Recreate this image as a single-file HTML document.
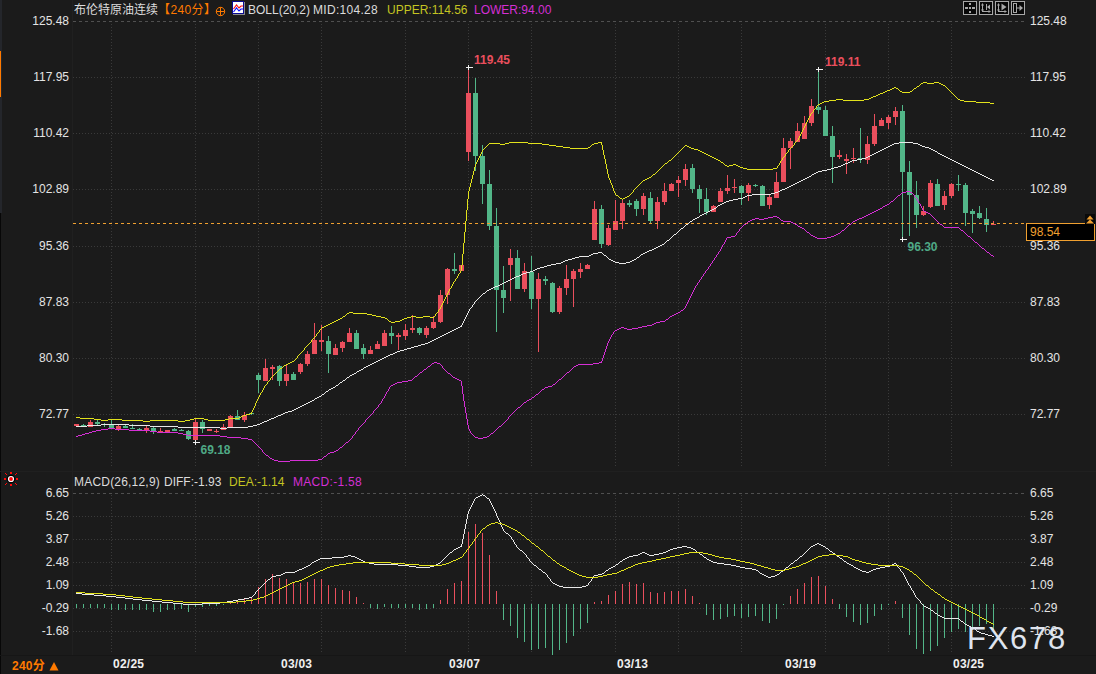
<!DOCTYPE html>
<html lang="zh"><head><meta charset="utf-8"><title>布伦特原油连续 240分</title>
<style>
html,body{margin:0;padding:0;background:#1b1b1b;}
body{width:1096px;height:674px;overflow:hidden;position:relative;font-family:"Liberation Sans","Noto Sans CJK SC",sans-serif;}
#chart{position:absolute;left:0;top:0;width:1096px;height:674px;display:block;}
.t{position:absolute;white-space:nowrap;font-size:12px;line-height:14px;height:14px;color:#dcdcdc;}
.ax{position:absolute;white-space:nowrap;font-size:12px;line-height:14px;height:14px;color:#e4e4e4;}
.axl{left:0;width:69px;text-align:right;}
.axr{left:1030px;}
.b{font-weight:bold;}
.dt{position:absolute;white-space:nowrap;font-size:12px;line-height:14px;font-weight:bold;color:#f0f0f0;top:657px;letter-spacing:0.25px;}
.wm{position:absolute;left:967px;top:622px;font-size:31px;line-height:34px;letter-spacing:1.7px;color:#dfe4ee;white-space:nowrap;}
</style></head><body>
<svg id="chart" width="1096" height="674" viewBox="0 0 1096 674">
<rect x="0" y="0" width="2" height="213" fill="#24262b"/>
<rect x="0" y="213" width="1" height="461" fill="#070707"/>
<rect x="0" y="51" width="1" height="46" fill="#ff7a00"/>
<g shape-rendering="crispEdges">
<rect x="72" y="0" width="1" height="655" fill="#202020"/>
<rect x="0" y="471" width="1096" height="1" fill="#202020"/>
<rect x="0" y="655" width="1096" height="1" fill="#161616"/>
<line x1="111.5" y1="24" x2="111.5" y2="466" stroke="#3a3a3a" stroke-width="1" stroke-dasharray="1 2"/>
<line x1="111.5" y1="495" x2="111.5" y2="654" stroke="#3a3a3a" stroke-width="1" stroke-dasharray="1 2"/>
<line x1="195.5" y1="24" x2="195.5" y2="466" stroke="#3a3a3a" stroke-width="1" stroke-dasharray="1 2"/>
<line x1="195.5" y1="495" x2="195.5" y2="654" stroke="#3a3a3a" stroke-width="1" stroke-dasharray="1 2"/>
<line x1="258.5" y1="24" x2="258.5" y2="466" stroke="#3a3a3a" stroke-width="1" stroke-dasharray="1 2"/>
<line x1="258.5" y1="495" x2="258.5" y2="654" stroke="#3a3a3a" stroke-width="1" stroke-dasharray="1 2"/>
<line x1="321.5" y1="24" x2="321.5" y2="466" stroke="#3a3a3a" stroke-width="1" stroke-dasharray="1 2"/>
<line x1="321.5" y1="495" x2="321.5" y2="654" stroke="#3a3a3a" stroke-width="1" stroke-dasharray="1 2"/>
<line x1="405.5" y1="24" x2="405.5" y2="466" stroke="#3a3a3a" stroke-width="1" stroke-dasharray="1 2"/>
<line x1="405.5" y1="495" x2="405.5" y2="654" stroke="#3a3a3a" stroke-width="1" stroke-dasharray="1 2"/>
<line x1="468.5" y1="24" x2="468.5" y2="466" stroke="#3a3a3a" stroke-width="1" stroke-dasharray="1 2"/>
<line x1="468.5" y1="495" x2="468.5" y2="654" stroke="#3a3a3a" stroke-width="1" stroke-dasharray="1 2"/>
<line x1="531.5" y1="24" x2="531.5" y2="466" stroke="#3a3a3a" stroke-width="1" stroke-dasharray="1 2"/>
<line x1="531.5" y1="495" x2="531.5" y2="654" stroke="#3a3a3a" stroke-width="1" stroke-dasharray="1 2"/>
<line x1="615.5" y1="24" x2="615.5" y2="466" stroke="#3a3a3a" stroke-width="1" stroke-dasharray="1 2"/>
<line x1="615.5" y1="495" x2="615.5" y2="654" stroke="#3a3a3a" stroke-width="1" stroke-dasharray="1 2"/>
<line x1="678.5" y1="24" x2="678.5" y2="466" stroke="#3a3a3a" stroke-width="1" stroke-dasharray="1 2"/>
<line x1="678.5" y1="495" x2="678.5" y2="654" stroke="#3a3a3a" stroke-width="1" stroke-dasharray="1 2"/>
<line x1="741.5" y1="24" x2="741.5" y2="466" stroke="#3a3a3a" stroke-width="1" stroke-dasharray="1 2"/>
<line x1="741.5" y1="495" x2="741.5" y2="654" stroke="#3a3a3a" stroke-width="1" stroke-dasharray="1 2"/>
<line x1="825.5" y1="24" x2="825.5" y2="466" stroke="#3a3a3a" stroke-width="1" stroke-dasharray="1 2"/>
<line x1="825.5" y1="495" x2="825.5" y2="654" stroke="#3a3a3a" stroke-width="1" stroke-dasharray="1 2"/>
<line x1="888.5" y1="24" x2="888.5" y2="466" stroke="#3a3a3a" stroke-width="1" stroke-dasharray="1 2"/>
<line x1="888.5" y1="495" x2="888.5" y2="654" stroke="#3a3a3a" stroke-width="1" stroke-dasharray="1 2"/>
<line x1="951.5" y1="24" x2="951.5" y2="466" stroke="#3a3a3a" stroke-width="1" stroke-dasharray="1 2"/>
<line x1="951.5" y1="495" x2="951.5" y2="654" stroke="#3a3a3a" stroke-width="1" stroke-dasharray="1 2"/>
<line x1="73" y1="21.5" x2="1024" y2="21.5" stroke="#505050" stroke-width="1" stroke-dasharray="3 3"/>
<line x1="73" y1="77.5" x2="1026" y2="77.5" stroke="#3a3a3a" stroke-width="1" stroke-dasharray="1 2"/>
<line x1="73" y1="133.5" x2="1026" y2="133.5" stroke="#3a3a3a" stroke-width="1" stroke-dasharray="1 2"/>
<line x1="73" y1="189.5" x2="1026" y2="189.5" stroke="#3a3a3a" stroke-width="1" stroke-dasharray="1 2"/>
<line x1="73" y1="246.5" x2="1026" y2="246.5" stroke="#3a3a3a" stroke-width="1" stroke-dasharray="1 2"/>
<line x1="73" y1="302.5" x2="1026" y2="302.5" stroke="#3a3a3a" stroke-width="1" stroke-dasharray="1 2"/>
<line x1="73" y1="358.5" x2="1026" y2="358.5" stroke="#3a3a3a" stroke-width="1" stroke-dasharray="1 2"/>
<line x1="73" y1="414.5" x2="1026" y2="414.5" stroke="#3a3a3a" stroke-width="1" stroke-dasharray="1 2"/>
<line x1="73" y1="493.5" x2="1024" y2="493.5" stroke="#505050" stroke-width="1" stroke-dasharray="3 3"/>
<line x1="73" y1="516.5" x2="1026" y2="516.5" stroke="#3a3a3a" stroke-width="1" stroke-dasharray="1 2"/>
<line x1="73" y1="539.5" x2="1026" y2="539.5" stroke="#3a3a3a" stroke-width="1" stroke-dasharray="1 2"/>
<line x1="73" y1="562.5" x2="1026" y2="562.5" stroke="#3a3a3a" stroke-width="1" stroke-dasharray="1 2"/>
<line x1="73" y1="585.5" x2="1026" y2="585.5" stroke="#3a3a3a" stroke-width="1" stroke-dasharray="1 2"/>
<line x1="73" y1="608.5" x2="1026" y2="608.5" stroke="#3a3a3a" stroke-width="1" stroke-dasharray="1 2"/>
<line x1="73" y1="631.5" x2="1026" y2="631.5" stroke="#3a3a3a" stroke-width="1" stroke-dasharray="1 2"/>
</g>
<g shape-rendering="crispEdges">
<rect x="76" y="424" width="1" height="2" fill="#ea4f5d"/>
<rect x="74" y="424" width="5" height="2" fill="#ea4f5d"/>
<rect x="83" y="424" width="1" height="2" fill="#52b688"/>
<rect x="81" y="425" width="5" height="1" fill="#52b688"/>
<rect x="90" y="420" width="1" height="7" fill="#ea4f5d"/>
<rect x="88" y="422" width="5" height="5" fill="#ea4f5d"/>
<rect x="97" y="420" width="1" height="5" fill="#52b688"/>
<rect x="95" y="422" width="5" height="2" fill="#52b688"/>
<rect x="104" y="423" width="1" height="4" fill="#52b688"/>
<rect x="102" y="424" width="5" height="1" fill="#52b688"/>
<rect x="111" y="420" width="1" height="9" fill="#52b688"/>
<rect x="109" y="425" width="5" height="4" fill="#52b688"/>
<rect x="118" y="425" width="1" height="6" fill="#ea4f5d"/>
<rect x="116" y="426" width="5" height="3" fill="#ea4f5d"/>
<rect x="125" y="425" width="1" height="3" fill="#52b688"/>
<rect x="123" y="426" width="5" height="2" fill="#52b688"/>
<rect x="132" y="424" width="1" height="5" fill="#52b688"/>
<rect x="130" y="428" width="5" height="1" fill="#52b688"/>
<rect x="139" y="428" width="1" height="2" fill="#52b688"/>
<rect x="137" y="429" width="5" height="1" fill="#52b688"/>
<rect x="146" y="426" width="1" height="7" fill="#ea4f5d"/>
<rect x="144" y="428" width="5" height="2" fill="#ea4f5d"/>
<rect x="153" y="427" width="1" height="7" fill="#52b688"/>
<rect x="151" y="428" width="5" height="3" fill="#52b688"/>
<rect x="160" y="428" width="1" height="4" fill="#ea4f5d"/>
<rect x="158" y="431" width="5" height="1" fill="#ea4f5d"/>
<rect x="167" y="430" width="1" height="2" fill="#ea4f5d"/>
<rect x="165" y="430" width="5" height="2" fill="#ea4f5d"/>
<rect x="174" y="428" width="1" height="3" fill="#52b688"/>
<rect x="172" y="429" width="5" height="2" fill="#52b688"/>
<rect x="181" y="429" width="1" height="2" fill="#52b688"/>
<rect x="179" y="430" width="5" height="1" fill="#52b688"/>
<rect x="188" y="430" width="1" height="10" fill="#52b688"/>
<rect x="186" y="431" width="5" height="8" fill="#52b688"/>
<rect x="195" y="418" width="1" height="25" fill="#ea4f5d"/>
<rect x="193" y="422" width="5" height="18" fill="#ea4f5d"/>
<rect x="202" y="420" width="1" height="13" fill="#52b688"/>
<rect x="200" y="422" width="5" height="7" fill="#52b688"/>
<rect x="209" y="429" width="1" height="2" fill="#ea4f5d"/>
<rect x="207" y="429" width="5" height="2" fill="#ea4f5d"/>
<rect x="216" y="429" width="1" height="4" fill="#ea4f5d"/>
<rect x="214" y="431" width="5" height="1" fill="#ea4f5d"/>
<rect x="223" y="424" width="1" height="6" fill="#ea4f5d"/>
<rect x="221" y="427" width="5" height="3" fill="#ea4f5d"/>
<rect x="230" y="415" width="1" height="12" fill="#ea4f5d"/>
<rect x="228" y="416" width="5" height="11" fill="#ea4f5d"/>
<rect x="237" y="410" width="1" height="10" fill="#52b688"/>
<rect x="235" y="416" width="5" height="4" fill="#52b688"/>
<rect x="244" y="412" width="1" height="10" fill="#ea4f5d"/>
<rect x="242" y="415" width="5" height="5" fill="#ea4f5d"/>
<rect x="251" y="413" width="1" height="2" fill="#52b688"/>
<rect x="249" y="413" width="5" height="1" fill="#52b688"/>
<rect x="258" y="373" width="1" height="20" fill="#52b688"/>
<rect x="256" y="375" width="5" height="5" fill="#52b688"/>
<rect x="265" y="359" width="1" height="22" fill="#ea4f5d"/>
<rect x="263" y="368" width="5" height="13" fill="#ea4f5d"/>
<rect x="272" y="365" width="1" height="15" fill="#ea4f5d"/>
<rect x="270" y="367" width="5" height="2" fill="#ea4f5d"/>
<rect x="279" y="365" width="1" height="21" fill="#52b688"/>
<rect x="277" y="366" width="5" height="15" fill="#52b688"/>
<rect x="286" y="365" width="1" height="21" fill="#ea4f5d"/>
<rect x="284" y="374" width="5" height="7" fill="#ea4f5d"/>
<rect x="293" y="372" width="1" height="8" fill="#52b688"/>
<rect x="291" y="374" width="5" height="6" fill="#52b688"/>
<rect x="300" y="363" width="1" height="11" fill="#ea4f5d"/>
<rect x="298" y="364" width="5" height="8" fill="#ea4f5d"/>
<rect x="307" y="351" width="1" height="15" fill="#ea4f5d"/>
<rect x="305" y="354" width="5" height="10" fill="#ea4f5d"/>
<rect x="314" y="323" width="1" height="31" fill="#ea4f5d"/>
<rect x="312" y="340" width="5" height="14" fill="#ea4f5d"/>
<rect x="321" y="325" width="1" height="26" fill="#ea4f5d"/>
<rect x="319" y="340" width="5" height="2" fill="#ea4f5d"/>
<rect x="328" y="336" width="1" height="37" fill="#52b688"/>
<rect x="326" y="341" width="5" height="13" fill="#52b688"/>
<rect x="335" y="344" width="1" height="11" fill="#ea4f5d"/>
<rect x="333" y="348" width="5" height="7" fill="#ea4f5d"/>
<rect x="342" y="341" width="1" height="11" fill="#ea4f5d"/>
<rect x="340" y="342" width="5" height="6" fill="#ea4f5d"/>
<rect x="349" y="328" width="1" height="14" fill="#ea4f5d"/>
<rect x="347" y="333" width="5" height="9" fill="#ea4f5d"/>
<rect x="356" y="330" width="1" height="19" fill="#52b688"/>
<rect x="354" y="333" width="5" height="16" fill="#52b688"/>
<rect x="363" y="344" width="1" height="15" fill="#52b688"/>
<rect x="361" y="348" width="5" height="6" fill="#52b688"/>
<rect x="370" y="346" width="1" height="8" fill="#ea4f5d"/>
<rect x="368" y="350" width="5" height="4" fill="#ea4f5d"/>
<rect x="377" y="341" width="1" height="8" fill="#ea4f5d"/>
<rect x="375" y="344" width="5" height="5" fill="#ea4f5d"/>
<rect x="384" y="330" width="1" height="16" fill="#ea4f5d"/>
<rect x="382" y="333" width="5" height="13" fill="#ea4f5d"/>
<rect x="391" y="326" width="1" height="18" fill="#52b688"/>
<rect x="389" y="333" width="5" height="3" fill="#52b688"/>
<rect x="398" y="333" width="1" height="17" fill="#ea4f5d"/>
<rect x="396" y="335" width="5" height="2" fill="#ea4f5d"/>
<rect x="405" y="324" width="1" height="16" fill="#ea4f5d"/>
<rect x="403" y="330" width="5" height="6" fill="#ea4f5d"/>
<rect x="412" y="315" width="1" height="18" fill="#ea4f5d"/>
<rect x="410" y="328" width="5" height="2" fill="#ea4f5d"/>
<rect x="419" y="327" width="1" height="8" fill="#52b688"/>
<rect x="417" y="328" width="5" height="5" fill="#52b688"/>
<rect x="426" y="326" width="1" height="12" fill="#ea4f5d"/>
<rect x="424" y="328" width="5" height="7" fill="#ea4f5d"/>
<rect x="433" y="316" width="1" height="13" fill="#ea4f5d"/>
<rect x="431" y="322" width="5" height="6" fill="#ea4f5d"/>
<rect x="440" y="290" width="1" height="33" fill="#ea4f5d"/>
<rect x="438" y="295" width="5" height="27" fill="#ea4f5d"/>
<rect x="447" y="268" width="1" height="36" fill="#ea4f5d"/>
<rect x="445" y="269" width="5" height="26" fill="#ea4f5d"/>
<rect x="454" y="253" width="1" height="21" fill="#52b688"/>
<rect x="452" y="269" width="5" height="2" fill="#52b688"/>
<rect x="461" y="265" width="1" height="6" fill="#ea4f5d"/>
<rect x="459" y="265" width="5" height="6" fill="#ea4f5d"/>
<rect x="468" y="67" width="1" height="94" fill="#ea4f5d"/>
<rect x="466" y="93" width="5" height="59" fill="#ea4f5d"/>
<rect x="475" y="78" width="1" height="93" fill="#52b688"/>
<rect x="473" y="93" width="5" height="63" fill="#52b688"/>
<rect x="482" y="145" width="1" height="59" fill="#52b688"/>
<rect x="480" y="156" width="5" height="28" fill="#52b688"/>
<rect x="489" y="170" width="1" height="60" fill="#52b688"/>
<rect x="487" y="184" width="5" height="42" fill="#52b688"/>
<rect x="496" y="208" width="1" height="124" fill="#52b688"/>
<rect x="494" y="226" width="5" height="64" fill="#52b688"/>
<rect x="503" y="266" width="1" height="47" fill="#52b688"/>
<rect x="501" y="290" width="5" height="8" fill="#52b688"/>
<rect x="510" y="249" width="1" height="52" fill="#ea4f5d"/>
<rect x="508" y="258" width="5" height="7" fill="#ea4f5d"/>
<rect x="517" y="250" width="1" height="39" fill="#52b688"/>
<rect x="515" y="258" width="5" height="31" fill="#52b688"/>
<rect x="524" y="263" width="1" height="29" fill="#ea4f5d"/>
<rect x="522" y="271" width="5" height="18" fill="#ea4f5d"/>
<rect x="531" y="256" width="1" height="53" fill="#52b688"/>
<rect x="529" y="272" width="5" height="27" fill="#52b688"/>
<rect x="538" y="273" width="1" height="79" fill="#ea4f5d"/>
<rect x="536" y="279" width="5" height="20" fill="#ea4f5d"/>
<rect x="545" y="276" width="1" height="9" fill="#52b688"/>
<rect x="543" y="279" width="5" height="2" fill="#52b688"/>
<rect x="552" y="282" width="1" height="31" fill="#52b688"/>
<rect x="550" y="283" width="5" height="29" fill="#52b688"/>
<rect x="559" y="286" width="1" height="28" fill="#ea4f5d"/>
<rect x="557" y="288" width="5" height="24" fill="#ea4f5d"/>
<rect x="566" y="265" width="1" height="30" fill="#ea4f5d"/>
<rect x="564" y="279" width="5" height="9" fill="#ea4f5d"/>
<rect x="573" y="269" width="1" height="38" fill="#ea4f5d"/>
<rect x="571" y="271" width="5" height="8" fill="#ea4f5d"/>
<rect x="580" y="263" width="1" height="15" fill="#ea4f5d"/>
<rect x="578" y="269" width="5" height="3" fill="#ea4f5d"/>
<rect x="587" y="264" width="1" height="5" fill="#ea4f5d"/>
<rect x="585" y="265" width="5" height="4" fill="#ea4f5d"/>
<rect x="594" y="201" width="1" height="39" fill="#ea4f5d"/>
<rect x="592" y="209" width="5" height="31" fill="#ea4f5d"/>
<rect x="601" y="205" width="1" height="43" fill="#52b688"/>
<rect x="599" y="209" width="5" height="35" fill="#52b688"/>
<rect x="608" y="225" width="1" height="21" fill="#ea4f5d"/>
<rect x="606" y="228" width="5" height="17" fill="#ea4f5d"/>
<rect x="615" y="200" width="1" height="30" fill="#ea4f5d"/>
<rect x="613" y="221" width="5" height="9" fill="#ea4f5d"/>
<rect x="622" y="200" width="1" height="29" fill="#ea4f5d"/>
<rect x="620" y="203" width="5" height="18" fill="#ea4f5d"/>
<rect x="629" y="200" width="1" height="7" fill="#52b688"/>
<rect x="627" y="203" width="5" height="2" fill="#52b688"/>
<rect x="636" y="199" width="1" height="17" fill="#52b688"/>
<rect x="634" y="201" width="5" height="8" fill="#52b688"/>
<rect x="643" y="193" width="1" height="22" fill="#ea4f5d"/>
<rect x="641" y="196" width="5" height="13" fill="#ea4f5d"/>
<rect x="650" y="192" width="1" height="31" fill="#52b688"/>
<rect x="648" y="198" width="5" height="23" fill="#52b688"/>
<rect x="657" y="197" width="1" height="32" fill="#ea4f5d"/>
<rect x="655" y="202" width="5" height="19" fill="#ea4f5d"/>
<rect x="664" y="183" width="1" height="22" fill="#ea4f5d"/>
<rect x="662" y="191" width="5" height="11" fill="#ea4f5d"/>
<rect x="671" y="183" width="1" height="8" fill="#ea4f5d"/>
<rect x="669" y="184" width="5" height="7" fill="#ea4f5d"/>
<rect x="678" y="176" width="1" height="21" fill="#ea4f5d"/>
<rect x="676" y="180" width="5" height="3" fill="#ea4f5d"/>
<rect x="685" y="164" width="1" height="22" fill="#ea4f5d"/>
<rect x="683" y="169" width="5" height="11" fill="#ea4f5d"/>
<rect x="692" y="164" width="1" height="29" fill="#52b688"/>
<rect x="690" y="168" width="5" height="21" fill="#52b688"/>
<rect x="699" y="185" width="1" height="28" fill="#52b688"/>
<rect x="697" y="189" width="5" height="10" fill="#52b688"/>
<rect x="706" y="188" width="1" height="27" fill="#52b688"/>
<rect x="704" y="199" width="5" height="13" fill="#52b688"/>
<rect x="713" y="205" width="1" height="7" fill="#ea4f5d"/>
<rect x="711" y="206" width="5" height="6" fill="#ea4f5d"/>
<rect x="720" y="188" width="1" height="14" fill="#ea4f5d"/>
<rect x="718" y="191" width="5" height="11" fill="#ea4f5d"/>
<rect x="727" y="175" width="1" height="19" fill="#ea4f5d"/>
<rect x="725" y="188" width="5" height="3" fill="#ea4f5d"/>
<rect x="734" y="179" width="1" height="14" fill="#ea4f5d"/>
<rect x="732" y="187" width="5" height="1" fill="#ea4f5d"/>
<rect x="741" y="185" width="1" height="20" fill="#52b688"/>
<rect x="739" y="186" width="5" height="7" fill="#52b688"/>
<rect x="748" y="183" width="1" height="18" fill="#ea4f5d"/>
<rect x="746" y="185" width="5" height="8" fill="#ea4f5d"/>
<rect x="755" y="184" width="1" height="3" fill="#52b688"/>
<rect x="753" y="185" width="5" height="1" fill="#52b688"/>
<rect x="762" y="185" width="1" height="21" fill="#52b688"/>
<rect x="760" y="186" width="5" height="20" fill="#52b688"/>
<rect x="769" y="195" width="1" height="14" fill="#ea4f5d"/>
<rect x="767" y="197" width="5" height="8" fill="#ea4f5d"/>
<rect x="776" y="172" width="1" height="26" fill="#ea4f5d"/>
<rect x="774" y="182" width="5" height="16" fill="#ea4f5d"/>
<rect x="783" y="138" width="1" height="44" fill="#ea4f5d"/>
<rect x="781" y="148" width="5" height="34" fill="#ea4f5d"/>
<rect x="790" y="138" width="1" height="31" fill="#ea4f5d"/>
<rect x="788" y="141" width="5" height="7" fill="#ea4f5d"/>
<rect x="797" y="123" width="1" height="19" fill="#ea4f5d"/>
<rect x="795" y="131" width="5" height="11" fill="#ea4f5d"/>
<rect x="804" y="116" width="1" height="23" fill="#ea4f5d"/>
<rect x="802" y="123" width="5" height="16" fill="#ea4f5d"/>
<rect x="811" y="99" width="1" height="27" fill="#ea4f5d"/>
<rect x="809" y="106" width="5" height="17" fill="#ea4f5d"/>
<rect x="818" y="69" width="1" height="45" fill="#52b688"/>
<rect x="816" y="107" width="5" height="3" fill="#52b688"/>
<rect x="825" y="106" width="1" height="30" fill="#52b688"/>
<rect x="823" y="110" width="5" height="26" fill="#52b688"/>
<rect x="832" y="126" width="1" height="57" fill="#52b688"/>
<rect x="830" y="136" width="5" height="21" fill="#52b688"/>
<rect x="839" y="150" width="1" height="9" fill="#ea4f5d"/>
<rect x="837" y="155" width="5" height="2" fill="#ea4f5d"/>
<rect x="846" y="154" width="1" height="20" fill="#ea4f5d"/>
<rect x="844" y="159" width="5" height="2" fill="#ea4f5d"/>
<rect x="853" y="148" width="1" height="15" fill="#ea4f5d"/>
<rect x="851" y="158" width="5" height="1" fill="#ea4f5d"/>
<rect x="860" y="128" width="1" height="35" fill="#52b688"/>
<rect x="858" y="158" width="5" height="1" fill="#52b688"/>
<rect x="867" y="136" width="1" height="28" fill="#ea4f5d"/>
<rect x="865" y="144" width="5" height="16" fill="#ea4f5d"/>
<rect x="874" y="114" width="1" height="32" fill="#ea4f5d"/>
<rect x="872" y="126" width="5" height="18" fill="#ea4f5d"/>
<rect x="881" y="118" width="1" height="8" fill="#ea4f5d"/>
<rect x="879" y="120" width="5" height="6" fill="#ea4f5d"/>
<rect x="888" y="115" width="1" height="14" fill="#ea4f5d"/>
<rect x="886" y="117" width="5" height="6" fill="#ea4f5d"/>
<rect x="895" y="107" width="1" height="18" fill="#ea4f5d"/>
<rect x="893" y="111" width="5" height="6" fill="#ea4f5d"/>
<rect x="902" y="105" width="1" height="135" fill="#52b688"/>
<rect x="900" y="111" width="5" height="61" fill="#52b688"/>
<rect x="909" y="161" width="1" height="75" fill="#52b688"/>
<rect x="907" y="172" width="5" height="23" fill="#52b688"/>
<rect x="916" y="181" width="1" height="47" fill="#52b688"/>
<rect x="914" y="195" width="5" height="20" fill="#52b688"/>
<rect x="923" y="206" width="1" height="10" fill="#ea4f5d"/>
<rect x="921" y="211" width="5" height="4" fill="#ea4f5d"/>
<rect x="930" y="180" width="1" height="28" fill="#ea4f5d"/>
<rect x="928" y="183" width="5" height="24" fill="#ea4f5d"/>
<rect x="937" y="179" width="1" height="27" fill="#52b688"/>
<rect x="935" y="184" width="5" height="22" fill="#52b688"/>
<rect x="944" y="191" width="1" height="19" fill="#ea4f5d"/>
<rect x="942" y="196" width="5" height="9" fill="#ea4f5d"/>
<rect x="951" y="183" width="1" height="15" fill="#ea4f5d"/>
<rect x="949" y="184" width="5" height="12" fill="#ea4f5d"/>
<rect x="958" y="175" width="1" height="16" fill="#52b688"/>
<rect x="956" y="184" width="5" height="1" fill="#52b688"/>
<rect x="965" y="183" width="1" height="43" fill="#52b688"/>
<rect x="963" y="185" width="5" height="28" fill="#52b688"/>
<rect x="972" y="209" width="1" height="24" fill="#52b688"/>
<rect x="970" y="211" width="5" height="3" fill="#52b688"/>
<rect x="979" y="206" width="1" height="13" fill="#52b688"/>
<rect x="977" y="213" width="5" height="5" fill="#52b688"/>
<rect x="986" y="208" width="1" height="24" fill="#52b688"/>
<rect x="984" y="219" width="5" height="6" fill="#52b688"/>
<rect x="993" y="221" width="1" height="4" fill="#ea4f5d"/>
<rect x="991" y="224" width="5" height="1" fill="#ea4f5d"/>
</g>
<line x1="73" y1="223.5" x2="1026" y2="223.5" stroke="#f0a030" stroke-width="1" stroke-dasharray="3 3" shape-rendering="crispEdges"/>
<path d="M906 191h4v1h-4zM902 192h4v1h-4zM910 192h2v1h-2zM898 195h2v1h-2zM891 201h2v1h-2zM887 204h2v1h-2zM885 205h2v1h-2zM883 206h2v1h-2zM880 208h2v1h-2zM878 209h2v1h-2zM876 210h2v1h-2zM874 211h2v1h-2zM924 211h2v1h-2zM872 212h2v1h-2zM926 212h2v1h-2zM870 213h2v1h-2zM928 213h2v1h-2zM868 214h2v1h-2zM866 215h2v1h-2zM773 216h4v1h-4zM864 216h2v1h-2zM768 217h5v1h-5zM777 217h2v1h-2zM862 217h2v1h-2zM755 218h4v1h-4zM764 218h4v1h-4zM859 218h3v1h-3zM752 219h3v1h-3zM759 219h5v1h-5zM857 219h2v1h-2zM750 220h2v1h-2zM781 220h2v1h-2zM855 220h2v1h-2zM748 221h2v1h-2zM783 221h8v1h-8zM853 221h2v1h-2zM791 222h2v1h-2zM793 223h2v1h-2zM744 224h2v1h-2zM795 224h2v1h-2zM849 224h2v1h-2zM940 224h2v1h-2zM798 226h2v1h-2zM800 227h2v1h-2zM944 227h15v1h-15zM802 228h2v1h-2zM842 230h2v1h-2zM961 230h2v1h-2zM807 232h2v1h-2zM838 233h2v1h-2zM836 234h2v1h-2zM811 235h2v1h-2zM834 235h2v1h-2zM731 236h4v1h-4zM813 236h2v1h-2zM831 236h3v1h-3zM968 236h2v1h-2zM727 237h4v1h-4zM815 237h2v1h-2zM827 237h4v1h-4zM817 238h10v1h-10zM975 242h2v1h-2zM982 248h2v1h-2zM987 252h2v1h-2zM991 255h2v1h-2zM681 310h2v1h-2zM678 312h2v1h-2zM676 313h2v1h-2zM674 314h2v1h-2zM672 315h2v1h-2zM670 316h2v1h-2zM666 319h2v1h-2zM660 321h5v1h-5zM656 322h4v1h-4zM654 323h2v1h-2zM652 324h2v1h-2zM647 325h5v1h-5zM642 326h5v1h-5zM621 327h3v1h-3zM638 327h4v1h-4zM619 328h2v1h-2zM624 328h3v1h-3zM632 328h6v1h-6zM617 329h2v1h-2zM627 329h5v1h-5zM615 330h2v1h-2zM434 362h3v1h-3zM599 362h3v1h-3zM432 363h2v1h-2zM437 363h3v1h-3zM593 363h6v1h-6zM578 364h15v1h-15zM576 365h2v1h-2zM428 366h2v1h-2zM574 366h2v1h-2zM424 369h2v1h-2zM420 372h2v1h-2zM567 372h2v1h-2zM448 373h2v1h-2zM415 376h2v1h-2zM453 377h2v1h-2zM455 378h2v1h-2zM457 379h2v1h-2zM559 379h2v1h-2zM408 380h4v1h-4zM459 380h2v1h-2zM402 381h6v1h-6zM397 382h5v1h-5zM395 383h2v1h-2zM393 384h2v1h-2zM553 384h2v1h-2zM391 385h2v1h-2zM548 386h4v1h-4zM545 387h3v1h-3zM542 389h2v1h-2zM536 394h2v1h-2zM532 397h2v1h-2zM529 399h2v1h-2zM527 400h2v1h-2zM524 402h2v1h-2zM518 407h2v1h-2zM499 426h2v1h-2zM108 428h7v1h-7zM101 429h7v1h-7zM115 429h14v1h-14zM96 430h5v1h-5zM129 430h21v1h-21zM92 431h4v1h-4zM150 431h7v1h-7zM89 432h3v1h-3zM157 432h21v1h-21zM85 433h4v1h-4zM178 433h5v1h-5zM491 433h2v1h-2zM82 434h3v1h-3zM183 434h4v1h-4zM78 435h4v1h-4zM187 435h33v1h-33zM76 436h2v1h-2zM220 436h7v1h-7zM487 436h2v1h-2zM227 437h14v1h-14zM475 437h3v1h-3zM483 437h4v1h-4zM241 438h7v1h-7zM478 438h5v1h-5zM248 439h4v1h-4zM346 442h2v1h-2zM340 447h2v1h-2zM336 450h2v1h-2zM334 451h2v1h-2zM330 452h4v1h-4zM328 453h2v1h-2zM266 455h2v1h-2zM324 456h2v1h-2zM270 458h2v1h-2zM272 459h2v1h-2zM318 459h4v1h-4zM274 460h4v1h-4zM290 460h28v1h-28zM278 461h12v1h-12zM252 440h1v1h-1zM253 441h1v1h-1zM254 442h1v1h-1zM255 443h1v1h-1zM256 444h1v1h-1zM257 445h1v1h-1zM258 446h1v1h-1zM259 447h1v1h-1zM260 448h1v1h-1zM261 449h1v1h-1zM262 450h1v2h-1zM263 452h1v1h-1zM264 453h1v1h-1zM265 454h1v1h-1zM268 456h1v1h-1zM269 457h1v1h-1zM322 458h1v1h-1zM323 457h1v1h-1zM326 455h1v1h-1zM327 454h1v1h-1zM338 449h1v1h-1zM339 448h1v1h-1zM342 446h1v1h-1zM343 445h1v1h-1zM344 444h1v1h-1zM345 443h1v1h-1zM348 441h1v1h-1zM349 440h1v1h-1zM350 439h1v1h-1zM351 438h1v1h-1zM352 436h1v2h-1zM353 435h1v1h-1zM354 434h1v1h-1zM355 432h1v2h-1zM356 431h1v1h-1zM357 430h1v1h-1zM358 428h1v2h-1zM359 427h1v1h-1zM360 426h1v1h-1zM361 425h1v1h-1zM362 424h1v1h-1zM363 423h1v1h-1zM364 422h1v1h-1zM365 420h1v2h-1zM366 419h1v1h-1zM367 418h1v1h-1zM368 417h1v1h-1zM369 416h1v1h-1zM370 415h1v1h-1zM371 414h1v1h-1zM372 413h1v1h-1zM373 411h1v2h-1zM374 410h1v1h-1zM375 409h1v1h-1zM376 408h1v1h-1zM377 407h1v1h-1zM378 405h1v2h-1zM379 404h1v1h-1zM380 403h1v1h-1zM381 401h1v2h-1zM382 399h1v2h-1zM383 398h1v1h-1zM384 396h1v2h-1zM385 394h1v2h-1zM386 392h1v2h-1zM387 391h1v1h-1zM388 389h1v2h-1zM389 387h1v2h-1zM390 386h1v1h-1zM412 379h1v1h-1zM413 378h1v1h-1zM414 377h1v1h-1zM417 375h1v1h-1zM418 374h1v1h-1zM419 373h1v1h-1zM422 371h1v1h-1zM423 370h1v1h-1zM426 368h1v1h-1zM427 367h1v1h-1zM430 365h1v1h-1zM431 364h1v1h-1zM440 364h1v1h-1zM441 365h1v1h-1zM442 366h1v2h-1zM443 368h1v1h-1zM444 369h1v1h-1zM445 370h1v1h-1zM446 371h1v1h-1zM447 372h1v1h-1zM450 374h1v1h-1zM451 375h1v1h-1zM452 376h1v1h-1zM461 381h1v5h-1zM462 386h1v8h-1zM463 394h1v7h-1zM464 401h1v6h-1zM465 407h1v6h-1zM466 413h1v6h-1zM467 419h1v6h-1zM468 425h1v4h-1zM469 429h1v2h-1zM470 431h1v2h-1zM471 433h1v1h-1zM472 434h1v1h-1zM473 435h1v1h-1zM474 436h1v1h-1zM489 435h1v1h-1zM490 434h1v1h-1zM493 432h1v1h-1zM494 431h1v1h-1zM495 430h1v1h-1zM496 429h1v1h-1zM497 428h1v1h-1zM498 427h1v1h-1zM501 425h1v1h-1zM502 424h1v1h-1zM503 423h1v1h-1zM504 422h1v1h-1zM505 421h1v1h-1zM506 420h1v1h-1zM507 419h1v1h-1zM508 417h1v2h-1zM509 416h1v1h-1zM510 415h1v1h-1zM511 414h1v1h-1zM512 413h1v1h-1zM513 412h1v1h-1zM514 411h1v1h-1zM515 410h1v1h-1zM516 409h1v1h-1zM517 408h1v1h-1zM520 406h1v1h-1zM521 405h1v1h-1zM522 404h1v1h-1zM523 403h1v1h-1zM526 401h1v1h-1zM531 398h1v1h-1zM534 396h1v1h-1zM535 395h1v1h-1zM538 393h1v1h-1zM539 392h1v1h-1zM540 391h1v1h-1zM541 390h1v1h-1zM544 388h1v1h-1zM552 385h1v1h-1zM555 383h1v1h-1zM556 382h1v1h-1zM557 381h1v1h-1zM558 380h1v1h-1zM561 378h1v1h-1zM562 377h1v1h-1zM563 376h1v1h-1zM564 375h1v1h-1zM565 374h1v1h-1zM566 373h1v1h-1zM569 371h1v1h-1zM570 370h1v1h-1zM571 369h1v1h-1zM572 368h1v1h-1zM573 367h1v1h-1zM601 361h1v1h-1zM602 358h1v3h-1zM603 355h1v3h-1zM604 352h1v3h-1zM605 349h1v3h-1zM606 346h1v3h-1zM607 343h1v3h-1zM608 341h1v2h-1zM609 339h1v2h-1zM610 337h1v2h-1zM611 335h1v2h-1zM612 334h1v1h-1zM613 332h1v2h-1zM614 331h1v1h-1zM665 320h1v1h-1zM668 318h1v1h-1zM669 317h1v1h-1zM680 311h1v1h-1zM683 309h1v1h-1zM684 308h1v1h-1zM685 306h1v2h-1zM686 304h1v2h-1zM687 302h1v2h-1zM688 300h1v2h-1zM689 298h1v2h-1zM690 296h1v2h-1zM691 294h1v2h-1zM692 292h1v2h-1zM693 290h1v2h-1zM694 288h1v2h-1zM695 286h1v2h-1zM696 285h1v1h-1zM697 283h1v2h-1zM698 282h1v1h-1zM699 280h1v2h-1zM700 279h1v1h-1zM701 277h1v2h-1zM702 276h1v1h-1zM703 274h1v2h-1zM704 273h1v1h-1zM705 271h1v2h-1zM706 270h1v1h-1zM707 269h1v1h-1zM708 267h1v2h-1zM709 266h1v1h-1zM710 264h1v2h-1zM711 263h1v1h-1zM712 261h1v2h-1zM713 260h1v1h-1zM714 258h1v2h-1zM715 257h1v1h-1zM716 255h1v2h-1zM717 254h1v1h-1zM718 252h1v2h-1zM719 251h1v1h-1zM720 249h1v2h-1zM721 247h1v2h-1zM722 245h1v2h-1zM723 244h1v1h-1zM724 242h1v2h-1zM725 240h1v2h-1zM726 238h1v2h-1zM735 235h1v1h-1zM736 233h1v2h-1zM737 232h1v1h-1zM738 231h1v1h-1zM739 229h1v2h-1zM740 228h1v1h-1zM741 227h1v1h-1zM742 226h1v1h-1zM743 225h1v1h-1zM746 223h1v1h-1zM747 222h1v1h-1zM779 218h1v1h-1zM780 219h1v1h-1zM797 225h1v1h-1zM804 229h1v1h-1zM805 230h1v1h-1zM806 231h1v1h-1zM809 233h1v1h-1zM810 234h1v1h-1zM840 232h1v1h-1zM841 231h1v1h-1zM844 229h1v1h-1zM845 228h1v1h-1zM846 227h1v1h-1zM847 226h1v1h-1zM848 225h1v1h-1zM851 223h1v1h-1zM852 222h1v1h-1zM882 207h1v1h-1zM889 203h1v1h-1zM890 202h1v1h-1zM893 200h1v1h-1zM894 199h1v1h-1zM895 198h1v1h-1zM896 197h1v1h-1zM897 196h1v1h-1zM900 194h1v1h-1zM901 193h1v1h-1zM912 193h1v1h-1zM913 194h1v1h-1zM914 195h1v2h-1zM915 197h1v1h-1zM916 198h1v1h-1zM917 199h1v2h-1zM918 201h1v2h-1zM919 203h1v1h-1zM920 204h1v2h-1zM921 206h1v2h-1zM922 208h1v2h-1zM923 210h1v1h-1zM930 214h1v1h-1zM931 215h1v1h-1zM932 216h1v1h-1zM933 217h1v1h-1zM934 218h1v1h-1zM935 219h1v1h-1zM936 220h1v1h-1zM937 221h1v1h-1zM938 222h1v1h-1zM939 223h1v1h-1zM942 225h1v1h-1zM943 226h1v1h-1zM959 228h1v1h-1zM960 229h1v1h-1zM963 231h1v1h-1zM964 232h1v1h-1zM965 233h1v1h-1zM966 234h1v1h-1zM967 235h1v1h-1zM970 237h1v1h-1zM971 238h1v1h-1zM972 239h1v1h-1zM973 240h1v1h-1zM974 241h1v1h-1zM977 243h1v1h-1zM978 244h1v1h-1zM979 245h1v1h-1zM980 246h1v1h-1zM981 247h1v1h-1zM984 249h1v1h-1zM985 250h1v1h-1zM986 251h1v1h-1zM989 253h1v1h-1zM990 254h1v1h-1zM993 256h1v1h-1z" fill="#d62fd6" shape-rendering="crispEdges"/>
<path d="M899 142h14v1h-14zM894 143h5v1h-5zM913 143h5v1h-5zM892 144h2v1h-2zM918 144h2v1h-2zM890 145h2v1h-2zM920 145h2v1h-2zM888 146h2v1h-2zM922 146h3v1h-3zM886 147h2v1h-2zM925 147h4v1h-4zM884 148h2v1h-2zM929 148h2v1h-2zM882 149h2v1h-2zM931 149h2v1h-2zM880 150h2v1h-2zM933 150h2v1h-2zM878 151h2v1h-2zM935 151h2v1h-2zM876 152h2v1h-2zM874 153h2v1h-2zM938 153h2v1h-2zM872 154h2v1h-2zM940 154h2v1h-2zM870 155h2v1h-2zM942 155h2v1h-2zM868 156h2v1h-2zM944 156h2v1h-2zM866 157h2v1h-2zM946 157h2v1h-2zM862 158h4v1h-4zM948 158h2v1h-2zM857 159h5v1h-5zM950 159h2v1h-2zM852 160h5v1h-5zM952 160h2v1h-2zM850 161h2v1h-2zM954 161h2v1h-2zM848 162h2v1h-2zM956 162h2v1h-2zM845 163h3v1h-3zM958 163h2v1h-2zM843 164h2v1h-2zM960 164h2v1h-2zM841 165h2v1h-2zM962 165h2v1h-2zM838 166h3v1h-3zM964 166h2v1h-2zM834 167h4v1h-4zM966 167h2v1h-2zM831 168h3v1h-3zM968 168h2v1h-2zM827 169h4v1h-4zM970 169h2v1h-2zM822 170h5v1h-5zM972 170h2v1h-2zM818 171h4v1h-4zM974 171h2v1h-2zM816 172h2v1h-2zM976 172h2v1h-2zM814 173h2v1h-2zM978 173h2v1h-2zM812 174h2v1h-2zM980 174h2v1h-2zM982 175h2v1h-2zM809 176h2v1h-2zM984 176h2v1h-2zM807 177h2v1h-2zM986 177h2v1h-2zM805 178h2v1h-2zM988 178h2v1h-2zM803 179h2v1h-2zM990 179h2v1h-2zM801 180h2v1h-2zM992 180h2v1h-2zM799 181h2v1h-2zM797 182h2v1h-2zM795 183h2v1h-2zM793 184h2v1h-2zM791 185h2v1h-2zM789 186h2v1h-2zM787 187h2v1h-2zM785 188h2v1h-2zM782 189h3v1h-3zM780 190h2v1h-2zM778 191h2v1h-2zM775 192h3v1h-3zM771 193h4v1h-4zM752 194h19v1h-19zM747 195h5v1h-5zM745 196h2v1h-2zM743 197h2v1h-2zM738 198h5v1h-5zM733 199h5v1h-5zM729 200h4v1h-4zM726 201h3v1h-3zM724 202h2v1h-2zM722 203h2v1h-2zM720 204h2v1h-2zM718 205h2v1h-2zM714 208h2v1h-2zM712 209h2v1h-2zM710 210h2v1h-2zM708 211h2v1h-2zM706 212h2v1h-2zM704 213h2v1h-2zM702 214h2v1h-2zM700 215h2v1h-2zM697 217h2v1h-2zM695 218h2v1h-2zM693 219h2v1h-2zM690 221h2v1h-2zM686 224h2v1h-2zM681 228h2v1h-2zM674 234h2v1h-2zM667 240h2v1h-2zM662 244h2v1h-2zM660 245h2v1h-2zM658 246h2v1h-2zM656 247h2v1h-2zM654 248h2v1h-2zM652 249h2v1h-2zM649 250h3v1h-3zM647 251h2v1h-2zM598 252h4v1h-4zM645 252h2v1h-2zM593 253h5v1h-5zM643 253h2v1h-2zM591 254h2v1h-2zM641 254h2v1h-2zM589 255h2v1h-2zM604 255h2v1h-2zM579 256h10v1h-10zM575 257h4v1h-4zM637 257h2v1h-2zM572 258h3v1h-3zM568 259h4v1h-4zM609 259h2v1h-2zM634 259h2v1h-2zM565 260h3v1h-3zM611 260h2v1h-2zM632 260h2v1h-2zM563 261h2v1h-2zM613 261h2v1h-2zM630 261h2v1h-2zM561 262h2v1h-2zM615 262h4v1h-4zM626 262h4v1h-4zM556 263h5v1h-5zM619 263h7v1h-7zM551 264h5v1h-5zM547 265h4v1h-4zM544 266h3v1h-3zM540 267h4v1h-4zM537 268h3v1h-3zM535 269h2v1h-2zM533 270h2v1h-2zM530 271h3v1h-3zM526 272h4v1h-4zM523 273h3v1h-3zM521 274h2v1h-2zM519 275h2v1h-2zM516 276h3v1h-3zM514 277h2v1h-2zM512 278h2v1h-2zM510 279h2v1h-2zM508 280h2v1h-2zM506 281h2v1h-2zM504 282h2v1h-2zM502 283h2v1h-2zM500 284h2v1h-2zM498 285h2v1h-2zM495 286h3v1h-3zM493 287h2v1h-2zM491 288h2v1h-2zM489 289h2v1h-2zM487 290h2v1h-2zM483 293h2v1h-2zM460 326h2v1h-2zM458 327h2v1h-2zM456 328h2v1h-2zM454 329h2v1h-2zM452 330h2v1h-2zM450 331h2v1h-2zM448 332h2v1h-2zM446 333h2v1h-2zM444 334h2v1h-2zM442 335h2v1h-2zM440 336h2v1h-2zM438 337h2v1h-2zM436 338h2v1h-2zM434 339h2v1h-2zM432 340h2v1h-2zM430 341h2v1h-2zM428 342h2v1h-2zM425 343h3v1h-3zM421 344h4v1h-4zM418 345h3v1h-3zM414 346h4v1h-4zM411 347h3v1h-3zM407 348h4v1h-4zM404 349h3v1h-3zM400 350h4v1h-4zM397 351h3v1h-3zM395 352h2v1h-2zM393 353h2v1h-2zM390 354h3v1h-3zM388 355h2v1h-2zM386 356h2v1h-2zM384 357h2v1h-2zM382 358h2v1h-2zM380 359h2v1h-2zM378 360h2v1h-2zM376 361h2v1h-2zM374 362h2v1h-2zM372 363h2v1h-2zM370 364h2v1h-2zM368 365h2v1h-2zM366 366h2v1h-2zM364 367h2v1h-2zM361 369h2v1h-2zM359 370h2v1h-2zM357 371h2v1h-2zM354 373h2v1h-2zM352 374h2v1h-2zM350 375h2v1h-2zM347 377h2v1h-2zM343 380h2v1h-2zM340 382h2v1h-2zM336 385h2v1h-2zM333 387h2v1h-2zM331 388h2v1h-2zM329 389h2v1h-2zM326 391h2v1h-2zM322 394h2v1h-2zM319 396h2v1h-2zM317 397h2v1h-2zM315 398h2v1h-2zM312 400h2v1h-2zM310 401h2v1h-2zM308 402h2v1h-2zM306 403h2v1h-2zM304 404h2v1h-2zM302 405h2v1h-2zM300 406h2v1h-2zM298 407h2v1h-2zM296 408h2v1h-2zM294 409h2v1h-2zM292 410h2v1h-2zM288 411h4v1h-4zM285 412h3v1h-3zM283 413h2v1h-2zM281 414h2v1h-2zM278 415h3v1h-3zM276 416h2v1h-2zM274 417h2v1h-2zM271 418h3v1h-3zM269 419h2v1h-2zM267 420h2v1h-2zM264 421h3v1h-3zM262 422h2v1h-2zM260 423h2v1h-2zM101 424h28v1h-28zM257 424h3v1h-3zM87 425h14v1h-14zM129 425h21v1h-21zM253 425h4v1h-4zM76 426h11v1h-11zM150 426h28v1h-28zM248 426h5v1h-5zM178 427h42v1h-42zM227 427h21v1h-21zM220 428h7v1h-7zM314 399h1v1h-1zM321 395h1v1h-1zM324 393h1v1h-1zM325 392h1v1h-1zM328 390h1v1h-1zM335 386h1v1h-1zM338 384h1v1h-1zM339 383h1v1h-1zM342 381h1v1h-1zM345 379h1v1h-1zM346 378h1v1h-1zM349 376h1v1h-1zM356 372h1v1h-1zM363 368h1v1h-1zM461 325h1v1h-1zM462 323h1v2h-1zM463 321h1v2h-1zM464 319h1v2h-1zM465 317h1v2h-1zM466 315h1v2h-1zM467 313h1v2h-1zM468 311h1v2h-1zM469 309h1v2h-1zM470 308h1v1h-1zM471 307h1v1h-1zM472 305h1v2h-1zM473 304h1v1h-1zM474 302h1v2h-1zM475 301h1v1h-1zM476 300h1v1h-1zM477 299h1v1h-1zM478 298h1v1h-1zM479 297h1v1h-1zM480 296h1v1h-1zM481 295h1v1h-1zM482 294h1v1h-1zM485 292h1v1h-1zM486 291h1v1h-1zM602 253h1v1h-1zM603 254h1v1h-1zM606 256h1v1h-1zM607 257h1v1h-1zM608 258h1v1h-1zM636 258h1v1h-1zM639 256h1v1h-1zM640 255h1v1h-1zM664 243h1v1h-1zM665 242h1v1h-1zM666 241h1v1h-1zM669 239h1v1h-1zM670 238h1v1h-1zM671 237h1v1h-1zM672 236h1v1h-1zM673 235h1v1h-1zM676 233h1v1h-1zM677 232h1v1h-1zM678 231h1v1h-1zM679 230h1v1h-1zM680 229h1v1h-1zM683 227h1v1h-1zM684 226h1v1h-1zM685 225h1v1h-1zM688 223h1v1h-1zM689 222h1v1h-1zM692 220h1v1h-1zM699 216h1v1h-1zM716 207h1v1h-1zM717 206h1v1h-1zM811 175h1v1h-1zM937 152h1v1h-1z" fill="#e8e8e8" shape-rendering="crispEdges"/>
<path d="M923 82h4v1h-4zM934 82h5v1h-5zM921 83h2v1h-2zM927 83h7v1h-7zM939 83h2v1h-2zM941 84h2v1h-2zM943 85h2v1h-2zM917 86h2v1h-2zM894 87h2v1h-2zM892 88h2v1h-2zM896 88h2v1h-2zM914 88h2v1h-2zM890 89h2v1h-2zM887 90h3v1h-3zM885 91h2v1h-2zM900 91h2v1h-2zM910 91h2v1h-2zM883 92h2v1h-2zM902 92h8v1h-8zM880 93h3v1h-3zM878 94h2v1h-2zM876 95h2v1h-2zM873 96h3v1h-3zM871 97h2v1h-2zM869 98h2v1h-2zM836 99h7v1h-7zM864 99h5v1h-5zM958 99h2v1h-2zM829 100h7v1h-7zM843 100h21v1h-21zM960 100h4v1h-4zM824 101h5v1h-5zM964 101h12v1h-12zM822 102h2v1h-2zM976 102h14v1h-14zM820 103h2v1h-2zM990 103h4v1h-4zM818 104h2v1h-2zM509 142h19v1h-19zM598 142h4v1h-4zM489 143h11v1h-11zM505 143h4v1h-4zM528 143h14v1h-14zM594 143h4v1h-4zM500 144h5v1h-5zM542 144h7v1h-7zM592 144h2v1h-2zM549 145h7v1h-7zM685 145h2v1h-2zM556 146h7v1h-7zM687 146h2v1h-2zM563 147h7v1h-7zM588 147h2v1h-2zM689 147h2v1h-2zM570 148h18v1h-18zM691 148h3v1h-3zM694 149h4v1h-4zM698 150h2v1h-2zM700 151h2v1h-2zM702 152h2v1h-2zM704 153h2v1h-2zM706 154h2v1h-2zM708 155h2v1h-2zM710 156h2v1h-2zM712 157h2v1h-2zM714 158h2v1h-2zM716 159h2v1h-2zM669 160h2v1h-2zM718 160h2v1h-2zM721 162h2v1h-2zM665 163h2v1h-2zM733 164h3v1h-3zM725 165h2v1h-2zM729 165h4v1h-4zM736 165h2v1h-2zM727 166h2v1h-2zM738 166h2v1h-2zM740 167h3v1h-3zM743 168h4v1h-4zM773 168h4v1h-4zM747 169h26v1h-26zM653 174h2v1h-2zM649 177h2v1h-2zM647 178h2v1h-2zM645 179h2v1h-2zM643 180h2v1h-2zM616 195h2v1h-2zM627 196h2v1h-2zM625 197h2v1h-2zM620 198h2v1h-2zM623 198h2v1h-2zM349 312h4v1h-4zM347 313h2v1h-2zM353 313h14v1h-14zM367 314h5v1h-5zM372 315h4v1h-4zM343 316h2v1h-2zM376 316h5v1h-5zM411 316h5v1h-5zM423 316h7v1h-7zM381 317h4v1h-4zM407 317h4v1h-4zM416 317h7v1h-7zM430 317h4v1h-4zM340 318h2v1h-2zM385 318h2v1h-2zM404 318h3v1h-3zM338 319h2v1h-2zM402 319h2v1h-2zM336 320h2v1h-2zM400 320h2v1h-2zM334 321h2v1h-2zM389 321h2v1h-2zM395 321h5v1h-5zM332 322h2v1h-2zM391 322h4v1h-4zM330 323h2v1h-2zM328 324h2v1h-2zM326 325h2v1h-2zM324 326h2v1h-2zM322 327h2v1h-2zM292 361h2v1h-2zM290 362h2v1h-2zM288 363h2v1h-2zM286 364h2v1h-2zM284 365h2v1h-2zM280 368h2v1h-2zM250 413h2v1h-2zM246 414h4v1h-4zM243 415h3v1h-3zM241 416h2v1h-2zM76 417h4v1h-4zM239 417h2v1h-2zM80 418h14v1h-14zM194 418h10v1h-10zM229 418h10v1h-10zM94 419h7v1h-7zM108 419h14v1h-14zM190 419h4v1h-4zM204 419h4v1h-4zM225 419h4v1h-4zM101 420h7v1h-7zM122 420h21v1h-21zM150 420h28v1h-28zM185 420h5v1h-5zM208 420h17v1h-17zM143 421h7v1h-7zM178 421h7v1h-7zM251 412h1v1h-1zM252 410h1v2h-1zM253 408h1v2h-1zM254 406h1v2h-1zM255 403h1v3h-1zM256 401h1v2h-1zM257 399h1v2h-1zM258 397h1v2h-1zM259 395h1v2h-1zM260 393h1v2h-1zM261 392h1v1h-1zM262 390h1v2h-1zM263 388h1v2h-1zM264 386h1v2h-1zM265 385h1v1h-1zM266 384h1v1h-1zM267 382h1v2h-1zM268 381h1v1h-1zM269 380h1v1h-1zM270 378h1v2h-1zM271 377h1v1h-1zM272 376h1v1h-1zM273 375h1v1h-1zM274 374h1v1h-1zM275 373h1v1h-1zM276 372h1v1h-1zM277 371h1v1h-1zM278 370h1v1h-1zM279 369h1v1h-1zM282 367h1v1h-1zM283 366h1v1h-1zM294 360h1v1h-1zM295 359h1v1h-1zM296 358h1v1h-1zM297 356h1v2h-1zM298 355h1v1h-1zM299 354h1v1h-1zM300 353h1v1h-1zM301 352h1v1h-1zM302 351h1v1h-1zM303 350h1v1h-1zM304 348h1v2h-1zM305 347h1v1h-1zM306 346h1v1h-1zM307 345h1v1h-1zM308 344h1v1h-1zM309 343h1v1h-1zM310 342h1v1h-1zM311 340h1v2h-1zM312 339h1v1h-1zM313 338h1v1h-1zM314 337h1v1h-1zM315 336h1v1h-1zM316 334h1v2h-1zM317 333h1v1h-1zM318 332h1v1h-1zM319 330h1v2h-1zM320 329h1v1h-1zM321 328h1v1h-1zM342 317h1v1h-1zM345 315h1v1h-1zM346 314h1v1h-1zM387 319h1v1h-1zM388 320h1v1h-1zM434 316h1v1h-1zM435 314h1v2h-1zM436 313h1v1h-1zM437 312h1v1h-1zM438 310h1v2h-1zM439 309h1v1h-1zM440 307h1v2h-1zM441 305h1v2h-1zM442 303h1v2h-1zM443 301h1v2h-1zM444 299h1v2h-1zM445 297h1v2h-1zM446 295h1v2h-1zM447 293h1v2h-1zM448 291h1v2h-1zM449 289h1v2h-1zM450 288h1v1h-1zM451 286h1v2h-1zM452 284h1v2h-1zM453 282h1v2h-1zM454 281h1v1h-1zM455 279h1v2h-1zM456 278h1v1h-1zM457 276h1v2h-1zM458 274h1v2h-1zM459 273h1v1h-1zM460 271h1v2h-1zM461 265h1v6h-1zM462 254h1v11h-1zM463 243h1v11h-1zM464 232h1v11h-1zM465 221h1v11h-1zM466 210h1v11h-1zM467 199h1v11h-1zM468 191h1v8h-1zM469 187h1v4h-1zM470 183h1v4h-1zM471 179h1v4h-1zM472 175h1v4h-1zM473 171h1v4h-1zM474 167h1v4h-1zM475 164h1v3h-1zM476 162h1v2h-1zM477 160h1v2h-1zM478 158h1v2h-1zM479 156h1v2h-1zM480 154h1v2h-1zM481 152h1v2h-1zM482 150h1v2h-1zM483 149h1v1h-1zM484 148h1v1h-1zM485 147h1v1h-1zM486 146h1v1h-1zM487 145h1v1h-1zM488 144h1v1h-1zM590 146h1v1h-1zM591 145h1v1h-1zM601 143h1v2h-1zM602 145h1v5h-1zM603 150h1v5h-1zM604 155h1v4h-1zM605 159h1v5h-1zM606 164h1v5h-1zM607 169h1v5h-1zM608 174h1v4h-1zM609 178h1v2h-1zM610 180h1v3h-1zM611 183h1v2h-1zM612 185h1v3h-1zM613 188h1v3h-1zM614 191h1v2h-1zM615 193h1v2h-1zM618 196h1v1h-1zM619 197h1v1h-1zM622 199h1v1h-1zM629 195h1v1h-1zM630 194h1v1h-1zM631 193h1v1h-1zM632 192h1v1h-1zM633 190h1v2h-1zM634 189h1v1h-1zM635 188h1v1h-1zM636 187h1v1h-1zM637 186h1v1h-1zM638 185h1v1h-1zM639 184h1v1h-1zM640 183h1v1h-1zM641 182h1v1h-1zM642 181h1v1h-1zM651 176h1v1h-1zM652 175h1v1h-1zM655 173h1v1h-1zM656 172h1v1h-1zM657 171h1v1h-1zM658 170h1v1h-1zM659 169h1v1h-1zM660 168h1v1h-1zM661 167h1v1h-1zM662 166h1v1h-1zM663 165h1v1h-1zM664 164h1v1h-1zM667 162h1v1h-1zM668 161h1v1h-1zM671 159h1v1h-1zM672 158h1v1h-1zM673 157h1v1h-1zM674 156h1v1h-1zM675 155h1v1h-1zM676 154h1v1h-1zM677 153h1v1h-1zM678 152h1v1h-1zM679 151h1v1h-1zM680 150h1v1h-1zM681 149h1v1h-1zM682 148h1v1h-1zM683 147h1v1h-1zM684 146h1v1h-1zM720 161h1v1h-1zM723 163h1v1h-1zM724 164h1v1h-1zM777 166h1v2h-1zM778 165h1v1h-1zM779 163h1v2h-1zM780 161h1v2h-1zM781 160h1v1h-1zM782 158h1v2h-1zM783 157h1v1h-1zM784 156h1v1h-1zM785 154h1v2h-1zM786 153h1v1h-1zM787 152h1v1h-1zM788 150h1v2h-1zM789 149h1v1h-1zM790 148h1v1h-1zM791 147h1v1h-1zM792 146h1v1h-1zM793 145h1v1h-1zM794 143h1v2h-1zM795 142h1v1h-1zM796 141h1v1h-1zM797 140h1v1h-1zM798 138h1v2h-1zM799 136h1v2h-1zM800 134h1v2h-1zM801 132h1v2h-1zM802 130h1v2h-1zM803 128h1v2h-1zM804 126h1v2h-1zM805 124h1v2h-1zM806 122h1v2h-1zM807 120h1v2h-1zM808 118h1v2h-1zM809 116h1v2h-1zM810 114h1v2h-1zM811 113h1v1h-1zM812 112h1v1h-1zM813 110h1v2h-1zM814 109h1v1h-1zM815 108h1v1h-1zM816 106h1v2h-1zM817 105h1v1h-1zM898 89h1v1h-1zM899 90h1v1h-1zM912 90h1v1h-1zM913 89h1v1h-1zM916 87h1v1h-1zM919 85h1v1h-1zM920 84h1v1h-1zM945 86h1v1h-1zM946 87h1v1h-1zM947 88h1v1h-1zM948 89h1v1h-1zM949 90h1v1h-1zM950 91h1v1h-1zM951 92h1v1h-1zM952 93h1v1h-1zM953 94h1v1h-1zM954 95h1v1h-1zM955 96h1v1h-1zM956 97h1v1h-1zM957 98h1v1h-1z" fill="#e2e21c" shape-rendering="crispEdges"/>
<g shape-rendering="crispEdges" fill="#f0f0f0">
<rect x="466" y="67" width="7" height="1"/>
<rect x="468" y="65" width="1" height="5"/>
<rect x="816" y="69" width="7" height="1"/>
<rect x="818" y="67" width="1" height="5"/>
<rect x="193" y="442" width="7" height="1"/>
<rect x="195" y="440" width="1" height="5"/>
<rect x="900" y="239" width="7" height="1"/>
<rect x="902" y="237" width="1" height="5"/>
</g>
<g shape-rendering="crispEdges">
<rect x="76" y="604" width="1" height="4" fill="#52b688"/>
<rect x="83" y="604" width="1" height="4" fill="#52b688"/>
<rect x="90" y="604" width="1" height="4" fill="#52b688"/>
<rect x="97" y="604" width="1" height="4" fill="#52b688"/>
<rect x="104" y="604" width="1" height="4" fill="#52b688"/>
<rect x="111" y="604" width="1" height="6" fill="#52b688"/>
<rect x="118" y="604" width="1" height="6" fill="#52b688"/>
<rect x="125" y="604" width="1" height="6" fill="#52b688"/>
<rect x="132" y="604" width="1" height="6" fill="#52b688"/>
<rect x="139" y="604" width="1" height="6" fill="#52b688"/>
<rect x="146" y="604" width="1" height="6" fill="#52b688"/>
<rect x="153" y="604" width="1" height="8" fill="#52b688"/>
<rect x="160" y="604" width="1" height="8" fill="#52b688"/>
<rect x="167" y="604" width="1" height="6" fill="#52b688"/>
<rect x="174" y="604" width="1" height="6" fill="#52b688"/>
<rect x="181" y="604" width="1" height="5" fill="#52b688"/>
<rect x="188" y="604" width="1" height="8" fill="#52b688"/>
<rect x="195" y="604" width="1" height="3" fill="#52b688"/>
<rect x="202" y="604" width="1" height="3" fill="#52b688"/>
<rect x="209" y="604" width="1" height="2" fill="#52b688"/>
<rect x="216" y="604" width="1" height="2" fill="#52b688"/>
<rect x="223" y="604" width="1" height="1" fill="#52b688"/>
<rect x="230" y="601" width="1" height="3" fill="#ea4f5d"/>
<rect x="237" y="600" width="1" height="4" fill="#ea4f5d"/>
<rect x="244" y="598" width="1" height="6" fill="#ea4f5d"/>
<rect x="251" y="597" width="1" height="7" fill="#ea4f5d"/>
<rect x="258" y="587" width="1" height="17" fill="#ea4f5d"/>
<rect x="265" y="579" width="1" height="25" fill="#ea4f5d"/>
<rect x="272" y="574" width="1" height="30" fill="#ea4f5d"/>
<rect x="279" y="578" width="1" height="26" fill="#ea4f5d"/>
<rect x="286" y="579" width="1" height="25" fill="#ea4f5d"/>
<rect x="293" y="583" width="1" height="21" fill="#ea4f5d"/>
<rect x="300" y="583" width="1" height="21" fill="#ea4f5d"/>
<rect x="307" y="582" width="1" height="22" fill="#ea4f5d"/>
<rect x="314" y="579" width="1" height="25" fill="#ea4f5d"/>
<rect x="321" y="579" width="1" height="25" fill="#ea4f5d"/>
<rect x="328" y="585" width="1" height="19" fill="#ea4f5d"/>
<rect x="335" y="588" width="1" height="16" fill="#ea4f5d"/>
<rect x="342" y="590" width="1" height="14" fill="#ea4f5d"/>
<rect x="349" y="591" width="1" height="13" fill="#ea4f5d"/>
<rect x="356" y="597" width="1" height="7" fill="#ea4f5d"/>
<rect x="363" y="603" width="1" height="1" fill="#ea4f5d"/>
<rect x="370" y="604" width="1" height="4" fill="#52b688"/>
<rect x="377" y="604" width="1" height="5" fill="#52b688"/>
<rect x="384" y="604" width="1" height="3" fill="#52b688"/>
<rect x="391" y="604" width="1" height="4" fill="#52b688"/>
<rect x="398" y="604" width="1" height="4" fill="#52b688"/>
<rect x="405" y="604" width="1" height="4" fill="#52b688"/>
<rect x="412" y="604" width="1" height="4" fill="#52b688"/>
<rect x="419" y="604" width="1" height="6" fill="#52b688"/>
<rect x="426" y="604" width="1" height="5" fill="#52b688"/>
<rect x="433" y="604" width="1" height="4" fill="#52b688"/>
<rect x="440" y="600" width="1" height="4" fill="#ea4f5d"/>
<rect x="447" y="589" width="1" height="15" fill="#ea4f5d"/>
<rect x="454" y="583" width="1" height="21" fill="#ea4f5d"/>
<rect x="461" y="581" width="1" height="23" fill="#ea4f5d"/>
<rect x="468" y="532" width="1" height="72" fill="#ea4f5d"/>
<rect x="475" y="524" width="1" height="80" fill="#ea4f5d"/>
<rect x="482" y="533" width="1" height="71" fill="#ea4f5d"/>
<rect x="489" y="555" width="1" height="49" fill="#ea4f5d"/>
<rect x="496" y="591" width="1" height="13" fill="#ea4f5d"/>
<rect x="503" y="604" width="1" height="16" fill="#52b688"/>
<rect x="510" y="604" width="1" height="22" fill="#52b688"/>
<rect x="517" y="604" width="1" height="34" fill="#52b688"/>
<rect x="524" y="604" width="1" height="38" fill="#52b688"/>
<rect x="531" y="604" width="1" height="46" fill="#52b688"/>
<rect x="538" y="604" width="1" height="45" fill="#52b688"/>
<rect x="545" y="604" width="1" height="44" fill="#52b688"/>
<rect x="552" y="604" width="1" height="51" fill="#52b688"/>
<rect x="559" y="604" width="1" height="46" fill="#52b688"/>
<rect x="566" y="604" width="1" height="39" fill="#52b688"/>
<rect x="573" y="604" width="1" height="32" fill="#52b688"/>
<rect x="580" y="604" width="1" height="25" fill="#52b688"/>
<rect x="587" y="604" width="1" height="19" fill="#52b688"/>
<rect x="594" y="602" width="1" height="2" fill="#ea4f5d"/>
<rect x="601" y="601" width="1" height="3" fill="#ea4f5d"/>
<rect x="608" y="595" width="1" height="9" fill="#ea4f5d"/>
<rect x="615" y="591" width="1" height="13" fill="#ea4f5d"/>
<rect x="622" y="584" width="1" height="20" fill="#ea4f5d"/>
<rect x="629" y="582" width="1" height="22" fill="#ea4f5d"/>
<rect x="636" y="584" width="1" height="20" fill="#ea4f5d"/>
<rect x="643" y="583" width="1" height="21" fill="#ea4f5d"/>
<rect x="650" y="592" width="1" height="12" fill="#ea4f5d"/>
<rect x="657" y="593" width="1" height="11" fill="#ea4f5d"/>
<rect x="664" y="592" width="1" height="12" fill="#ea4f5d"/>
<rect x="671" y="591" width="1" height="13" fill="#ea4f5d"/>
<rect x="678" y="591" width="1" height="13" fill="#ea4f5d"/>
<rect x="685" y="589" width="1" height="15" fill="#ea4f5d"/>
<rect x="692" y="596" width="1" height="8" fill="#ea4f5d"/>
<rect x="699" y="603" width="1" height="1" fill="#ea4f5d"/>
<rect x="706" y="604" width="1" height="11" fill="#52b688"/>
<rect x="713" y="604" width="1" height="16" fill="#52b688"/>
<rect x="720" y="604" width="1" height="15" fill="#52b688"/>
<rect x="727" y="604" width="1" height="13" fill="#52b688"/>
<rect x="734" y="604" width="1" height="12" fill="#52b688"/>
<rect x="741" y="604" width="1" height="14" fill="#52b688"/>
<rect x="748" y="604" width="1" height="13" fill="#52b688"/>
<rect x="755" y="604" width="1" height="12" fill="#52b688"/>
<rect x="762" y="604" width="1" height="17" fill="#52b688"/>
<rect x="769" y="604" width="1" height="19" fill="#52b688"/>
<rect x="776" y="604" width="1" height="15" fill="#52b688"/>
<rect x="783" y="604" width="1" height="1" fill="#52b688"/>
<rect x="790" y="596" width="1" height="8" fill="#ea4f5d"/>
<rect x="797" y="589" width="1" height="15" fill="#ea4f5d"/>
<rect x="804" y="583" width="1" height="21" fill="#ea4f5d"/>
<rect x="811" y="577" width="1" height="27" fill="#ea4f5d"/>
<rect x="818" y="576" width="1" height="28" fill="#ea4f5d"/>
<rect x="825" y="586" width="1" height="18" fill="#ea4f5d"/>
<rect x="832" y="599" width="1" height="5" fill="#ea4f5d"/>
<rect x="839" y="604" width="1" height="5" fill="#52b688"/>
<rect x="846" y="604" width="1" height="13" fill="#52b688"/>
<rect x="853" y="604" width="1" height="18" fill="#52b688"/>
<rect x="860" y="604" width="1" height="21" fill="#52b688"/>
<rect x="867" y="604" width="1" height="19" fill="#52b688"/>
<rect x="874" y="604" width="1" height="12" fill="#52b688"/>
<rect x="881" y="604" width="1" height="6" fill="#52b688"/>
<rect x="888" y="604" width="1" height="1" fill="#52b688"/>
<rect x="895" y="601" width="1" height="3" fill="#ea4f5d"/>
<rect x="902" y="604" width="1" height="14" fill="#52b688"/>
<rect x="909" y="604" width="1" height="31" fill="#52b688"/>
<rect x="916" y="604" width="1" height="45" fill="#52b688"/>
<rect x="923" y="604" width="1" height="50" fill="#52b688"/>
<rect x="930" y="604" width="1" height="47" fill="#52b688"/>
<rect x="937" y="604" width="1" height="42" fill="#52b688"/>
<rect x="944" y="604" width="1" height="34" fill="#52b688"/>
<rect x="951" y="604" width="1" height="28" fill="#52b688"/>
<rect x="958" y="604" width="1" height="25" fill="#52b688"/>
<rect x="965" y="604" width="1" height="28" fill="#52b688"/>
<rect x="972" y="604" width="1" height="26" fill="#52b688"/>
<rect x="979" y="604" width="1" height="22" fill="#52b688"/>
<rect x="986" y="604" width="1" height="20" fill="#52b688"/>
<rect x="993" y="604" width="1" height="26" fill="#52b688"/>
</g>
<path d="M480 495h2v1h-2zM483 495h2v1h-2zM478 496h2v1h-2zM476 497h2v1h-2zM487 498h2v1h-2zM506 533h2v1h-2zM817 543h2v1h-2zM815 544h2v1h-2zM819 544h2v1h-2zM813 545h2v1h-2zM821 545h2v1h-2zM460 546h2v1h-2zM682 546h5v1h-5zM811 546h2v1h-2zM823 546h2v1h-2zM458 547h2v1h-2zM677 547h5v1h-5zM687 547h4v1h-4zM456 548h2v1h-2zM673 548h4v1h-4zM691 548h2v1h-2zM826 548h2v1h-2zM454 549h2v1h-2zM670 549h3v1h-3zM693 549h2v1h-2zM520 550h2v1h-2zM668 550h2v1h-2zM666 551h2v1h-2zM830 551h2v1h-2zM450 552h2v1h-2zM642 552h3v1h-3zM663 552h3v1h-3zM697 552h2v1h-2zM640 553h2v1h-2zM645 553h2v1h-2zM659 553h4v1h-4zM833 553h2v1h-2zM638 554h2v1h-2zM647 554h2v1h-2zM654 554h5v1h-5zM700 554h2v1h-2zM348 555h3v1h-3zM633 555h5v1h-5zM649 555h5v1h-5zM344 556h4v1h-4zM351 556h4v1h-4zM629 556h4v1h-4zM800 556h2v1h-2zM837 556h2v1h-2zM332 557h12v1h-12zM355 557h2v1h-2zM627 557h2v1h-2zM704 557h2v1h-2zM320 558h12v1h-12zM357 558h2v1h-2zM625 558h2v1h-2zM840 558h2v1h-2zM318 559h2v1h-2zM359 559h2v1h-2zM623 559h2v1h-2zM707 559h2v1h-2zM316 560h2v1h-2zM361 560h2v1h-2zM709 560h2v1h-2zM795 560h2v1h-2zM314 561h2v1h-2zM363 561h2v1h-2zM620 561h2v1h-2zM711 561h2v1h-2zM844 561h2v1h-2zM312 562h2v1h-2zM365 562h4v1h-4zM713 562h4v1h-4zM369 563h5v1h-5zM438 563h2v1h-2zM717 563h7v1h-7zM791 563h2v1h-2zM847 563h2v1h-2zM894 563h2v1h-2zM374 564h24v1h-24zM436 564h2v1h-2zM616 564h2v1h-2zM724 564h7v1h-7zM849 564h2v1h-2zM892 564h2v1h-2zM308 565h2v1h-2zM398 565h11v1h-11zM434 565h2v1h-2zM534 565h2v1h-2zM731 565h5v1h-5zM851 565h2v1h-2zM890 565h2v1h-2zM306 566h2v1h-2zM409 566h7v1h-7zM430 566h4v1h-4zM613 566h2v1h-2zM736 566h4v1h-4zM885 566h5v1h-5zM304 567h2v1h-2zM416 567h14v1h-14zM611 567h2v1h-2zM740 567h5v1h-5zM786 567h2v1h-2zM854 567h2v1h-2zM880 567h5v1h-5zM302 568h2v1h-2zM609 568h2v1h-2zM745 568h7v1h-7zM856 568h2v1h-2zM876 568h4v1h-4zM299 569h3v1h-3zM539 569h2v1h-2zM752 569h4v1h-4zM858 569h2v1h-2zM873 569h3v1h-3zM297 570h2v1h-2zM606 570h2v1h-2zM756 570h2v1h-2zM860 570h2v1h-2zM871 570h2v1h-2zM295 571h2v1h-2zM781 571h2v1h-2zM862 571h4v1h-4zM869 571h2v1h-2zM285 572h10v1h-10zM543 572h2v1h-2zM866 572h3v1h-3zM283 573h2v1h-2zM602 573h2v1h-2zM760 573h2v1h-2zM281 574h2v1h-2zM598 574h4v1h-4zM762 574h2v1h-2zM777 574h2v1h-2zM276 575h5v1h-5zM594 575h4v1h-4zM764 575h2v1h-2zM775 575h2v1h-2zM272 576h4v1h-4zM766 576h2v1h-2zM771 576h4v1h-4zM768 577h3v1h-3zM268 579h2v1h-2zM553 583h2v1h-2zM555 584h2v1h-2zM557 585h2v1h-2zM586 585h2v1h-2zM559 586h4v1h-4zM582 586h4v1h-4zM563 587h19v1h-19zM76 593h6v1h-6zM82 594h12v1h-12zM94 595h12v1h-12zM106 596h10v1h-10zM116 597h9v1h-9zM249 597h3v1h-3zM125 598h8v1h-8zM244 598h5v1h-5zM133 599h9v1h-9zM238 599h6v1h-6zM142 600h10v1h-10zM233 600h5v1h-5zM152 601h10v1h-10zM227 601h6v1h-6zM162 602h11v1h-11zM220 602h7v1h-7zM173 603h10v1h-10zM202 603h18v1h-18zM183 604h19v1h-19zM924 606h2v1h-2zM926 607h2v1h-2zM928 608h2v1h-2zM931 610h2v1h-2zM935 613h2v1h-2zM938 615h2v1h-2zM940 616h2v1h-2zM942 617h2v1h-2zM944 618h15v1h-15zM961 621h2v1h-2zM965 624h2v1h-2zM967 625h2v1h-2zM969 626h2v1h-2zM971 627h2v1h-2zM973 628h2v1h-2zM977 631h2v1h-2zM979 632h2v1h-2zM981 633h4v1h-4zM985 634h3v1h-3zM988 635h4v1h-4zM992 636h2v1h-2zM252 596h1v1h-1zM253 595h1v1h-1zM254 594h1v1h-1zM255 592h1v2h-1zM256 591h1v1h-1zM257 590h1v1h-1zM258 589h1v1h-1zM259 588h1v1h-1zM260 587h1v1h-1zM261 586h1v1h-1zM262 585h1v1h-1zM263 584h1v1h-1zM264 583h1v1h-1zM265 582h1v1h-1zM266 581h1v1h-1zM267 580h1v1h-1zM270 578h1v1h-1zM271 577h1v1h-1zM310 564h1v1h-1zM311 563h1v1h-1zM440 562h1v1h-1zM441 561h1v1h-1zM442 560h1v1h-1zM443 559h1v1h-1zM444 558h1v1h-1zM445 557h1v1h-1zM446 556h1v1h-1zM447 555h1v1h-1zM448 554h1v1h-1zM449 553h1v1h-1zM452 551h1v1h-1zM453 550h1v1h-1zM461 544h1v2h-1zM462 539h1v5h-1zM463 534h1v5h-1zM464 529h1v5h-1zM465 524h1v5h-1zM466 519h1v5h-1zM467 514h1v5h-1zM468 511h1v3h-1zM469 509h1v2h-1zM470 507h1v2h-1zM471 505h1v2h-1zM472 503h1v2h-1zM473 501h1v2h-1zM474 499h1v2h-1zM475 498h1v1h-1zM482 494h1v1h-1zM485 496h1v1h-1zM486 497h1v1h-1zM489 499h1v2h-1zM490 501h1v2h-1zM491 503h1v2h-1zM492 505h1v2h-1zM493 507h1v2h-1zM494 509h1v2h-1zM495 511h1v2h-1zM496 513h1v3h-1zM497 516h1v2h-1zM498 518h1v2h-1zM499 520h1v2h-1zM500 522h1v3h-1zM501 525h1v2h-1zM502 527h1v2h-1zM503 529h1v2h-1zM504 531h1v1h-1zM505 532h1v1h-1zM508 534h1v1h-1zM509 535h1v1h-1zM510 536h1v1h-1zM511 537h1v2h-1zM512 539h1v1h-1zM513 540h1v2h-1zM514 542h1v2h-1zM515 544h1v1h-1zM516 545h1v2h-1zM517 547h1v1h-1zM518 548h1v1h-1zM519 549h1v1h-1zM522 551h1v1h-1zM523 552h1v1h-1zM524 553h1v1h-1zM525 554h1v1h-1zM526 555h1v2h-1zM527 557h1v1h-1zM528 558h1v1h-1zM529 559h1v2h-1zM530 561h1v1h-1zM531 562h1v1h-1zM532 563h1v1h-1zM533 564h1v1h-1zM536 566h1v1h-1zM537 567h1v1h-1zM538 568h1v1h-1zM541 570h1v1h-1zM542 571h1v1h-1zM545 573h1v1h-1zM546 574h1v1h-1zM547 575h1v2h-1zM548 577h1v1h-1zM549 578h1v1h-1zM550 579h1v2h-1zM551 581h1v1h-1zM552 582h1v1h-1zM588 583h1v2h-1zM589 582h1v1h-1zM590 581h1v1h-1zM591 579h1v2h-1zM592 578h1v1h-1zM593 576h1v2h-1zM604 572h1v1h-1zM605 571h1v1h-1zM608 569h1v1h-1zM615 565h1v1h-1zM618 563h1v1h-1zM619 562h1v1h-1zM622 560h1v1h-1zM695 550h1v1h-1zM696 551h1v1h-1zM699 553h1v1h-1zM702 555h1v1h-1zM703 556h1v1h-1zM706 558h1v1h-1zM758 571h1v1h-1zM759 572h1v1h-1zM779 573h1v1h-1zM780 572h1v1h-1zM783 570h1v1h-1zM784 569h1v1h-1zM785 568h1v1h-1zM788 566h1v1h-1zM789 565h1v1h-1zM790 564h1v1h-1zM793 562h1v1h-1zM794 561h1v1h-1zM797 559h1v1h-1zM798 558h1v1h-1zM799 557h1v1h-1zM802 555h1v1h-1zM803 554h1v1h-1zM804 553h1v1h-1zM805 552h1v1h-1zM806 551h1v1h-1zM807 550h1v1h-1zM808 549h1v1h-1zM809 548h1v1h-1zM810 547h1v1h-1zM825 547h1v1h-1zM828 549h1v1h-1zM829 550h1v1h-1zM832 552h1v1h-1zM835 554h1v1h-1zM836 555h1v1h-1zM839 557h1v1h-1zM842 559h1v1h-1zM843 560h1v1h-1zM846 562h1v1h-1zM853 566h1v1h-1zM896 564h1v1h-1zM897 565h1v2h-1zM898 567h1v1h-1zM899 568h1v1h-1zM900 569h1v2h-1zM901 571h1v1h-1zM902 572h1v1h-1zM903 573h1v2h-1zM904 575h1v2h-1zM905 577h1v2h-1zM906 579h1v2h-1zM907 581h1v2h-1zM908 583h1v2h-1zM909 585h1v1h-1zM910 586h1v2h-1zM911 588h1v2h-1zM912 590h1v1h-1zM913 591h1v2h-1zM914 593h1v2h-1zM915 595h1v2h-1zM916 597h1v1h-1zM917 598h1v1h-1zM918 599h1v1h-1zM919 600h1v1h-1zM920 601h1v2h-1zM921 603h1v1h-1zM922 604h1v1h-1zM923 605h1v1h-1zM930 609h1v1h-1zM933 611h1v1h-1zM934 612h1v1h-1zM937 614h1v1h-1zM959 619h1v1h-1zM960 620h1v1h-1zM963 622h1v1h-1zM964 623h1v1h-1zM975 629h1v1h-1zM976 630h1v1h-1z" fill="#e8e8e8" shape-rendering="crispEdges"/>
<path d="M495 522h3v1h-3zM491 523h4v1h-4zM498 523h4v1h-4zM489 524h2v1h-2zM502 524h3v1h-3zM487 525h2v1h-2zM505 525h2v1h-2zM507 526h2v1h-2zM509 527h2v1h-2zM483 528h2v1h-2zM511 528h2v1h-2zM513 529h2v1h-2zM515 530h2v1h-2zM518 532h2v1h-2zM522 535h2v1h-2zM527 539h2v1h-2zM532 543h2v1h-2zM536 546h2v1h-2zM541 550h2v1h-2zM689 552h14v1h-14zM684 553h5v1h-5zM703 553h5v1h-5zM680 554h4v1h-4zM708 554h4v1h-4zM829 554h7v1h-7zM675 555h5v1h-5zM712 555h3v1h-3zM822 555h7v1h-7zM836 555h7v1h-7zM548 556h2v1h-2zM670 556h5v1h-5zM715 556h4v1h-4zM818 556h4v1h-4zM843 556h5v1h-5zM460 557h2v1h-2zM666 557h4v1h-4zM719 557h5v1h-5zM816 557h2v1h-2zM848 557h2v1h-2zM458 558h2v1h-2zM661 558h5v1h-5zM724 558h7v1h-7zM814 558h2v1h-2zM850 558h2v1h-2zM456 559h2v1h-2zM656 559h5v1h-5zM731 559h5v1h-5zM812 559h2v1h-2zM852 559h3v1h-3zM453 560h3v1h-3zM553 560h2v1h-2zM652 560h4v1h-4zM736 560h4v1h-4zM810 560h2v1h-2zM855 560h4v1h-4zM451 561h2v1h-2zM647 561h5v1h-5zM740 561h5v1h-5zM808 561h2v1h-2zM859 561h3v1h-3zM353 562h38v1h-38zM449 562h2v1h-2zM642 562h5v1h-5zM745 562h5v1h-5zM806 562h2v1h-2zM862 562h4v1h-4zM346 563h7v1h-7zM391 563h14v1h-14zM446 563h3v1h-3zM557 563h2v1h-2zM638 563h4v1h-4zM750 563h4v1h-4zM803 563h3v1h-3zM866 563h5v1h-5zM339 564h7v1h-7zM405 564h14v1h-14zM442 564h4v1h-4zM635 564h3v1h-3zM754 564h3v1h-3zM801 564h2v1h-2zM871 564h7v1h-7zM334 565h5v1h-5zM419 565h23v1h-23zM560 565h2v1h-2zM633 565h2v1h-2zM757 565h4v1h-4zM799 565h2v1h-2zM878 565h21v1h-21zM330 566h4v1h-4zM562 566h2v1h-2zM631 566h2v1h-2zM761 566h3v1h-3zM796 566h3v1h-3zM899 566h4v1h-4zM327 567h3v1h-3zM564 567h2v1h-2zM628 567h3v1h-3zM764 567h4v1h-4zM792 567h4v1h-4zM903 567h2v1h-2zM325 568h2v1h-2zM626 568h2v1h-2zM768 568h3v1h-3zM789 568h3v1h-3zM905 568h2v1h-2zM323 569h2v1h-2zM567 569h2v1h-2zM624 569h2v1h-2zM771 569h4v1h-4zM785 569h4v1h-4zM907 569h2v1h-2zM320 570h3v1h-3zM569 570h2v1h-2zM621 570h3v1h-3zM775 570h10v1h-10zM318 571h2v1h-2zM571 571h2v1h-2zM619 571h2v1h-2zM910 571h2v1h-2zM316 572h2v1h-2zM573 572h2v1h-2zM617 572h2v1h-2zM314 573h2v1h-2zM575 573h2v1h-2zM612 573h5v1h-5zM312 574h2v1h-2zM577 574h2v1h-2zM607 574h5v1h-5zM914 574h2v1h-2zM310 575h2v1h-2zM579 575h3v1h-3zM603 575h4v1h-4zM308 576h2v1h-2zM582 576h4v1h-4zM598 576h5v1h-5zM306 577h2v1h-2zM586 577h12v1h-12zM304 578h2v1h-2zM302 579h2v1h-2zM299 580h3v1h-3zM295 581h4v1h-4zM292 582h3v1h-3zM290 583h2v1h-2zM288 584h2v1h-2zM286 585h2v1h-2zM926 585h2v1h-2zM284 586h2v1h-2zM282 587h2v1h-2zM280 588h2v1h-2zM278 589h2v1h-2zM931 589h2v1h-2zM276 590h2v1h-2zM274 591h2v1h-2zM76 592h9v1h-9zM272 592h2v1h-2zM935 592h2v1h-2zM85 593h18v1h-18zM270 593h2v1h-2zM103 594h13v1h-13zM268 594h2v1h-2zM938 594h2v1h-2zM116 595h9v1h-9zM266 595h2v1h-2zM125 596h8v1h-8zM264 596h2v1h-2zM133 597h9v1h-9zM260 597h4v1h-4zM942 597h2v1h-2zM142 598h10v1h-10zM257 598h3v1h-3zM152 599h10v1h-10zM253 599h4v1h-4zM945 599h2v1h-2zM162 600h11v1h-11zM246 600h7v1h-7zM947 600h2v1h-2zM173 601h10v1h-10zM236 601h10v1h-10zM949 601h2v1h-2zM183 602h53v1h-53zM951 602h2v1h-2zM953 603h2v1h-2zM955 604h2v1h-2zM957 605h2v1h-2zM959 606h2v1h-2zM961 607h2v1h-2zM963 608h2v1h-2zM965 609h2v1h-2zM967 610h2v1h-2zM969 611h2v1h-2zM971 612h2v1h-2zM973 613h2v1h-2zM975 614h2v1h-2zM977 615h2v1h-2zM980 617h2v1h-2zM982 618h2v1h-2zM984 619h2v1h-2zM987 621h2v1h-2zM989 622h2v1h-2zM991 623h2v1h-2zM462 556h1v1h-1zM463 554h1v2h-1zM464 553h1v1h-1zM465 552h1v1h-1zM466 550h1v2h-1zM467 549h1v1h-1zM468 548h1v1h-1zM469 546h1v2h-1zM470 545h1v1h-1zM471 544h1v1h-1zM472 542h1v2h-1zM473 541h1v1h-1zM474 539h1v2h-1zM475 538h1v1h-1zM476 537h1v1h-1zM477 535h1v2h-1zM478 534h1v1h-1zM479 533h1v1h-1zM480 531h1v2h-1zM481 530h1v1h-1zM482 529h1v1h-1zM485 527h1v1h-1zM486 526h1v1h-1zM517 531h1v1h-1zM520 533h1v1h-1zM521 534h1v1h-1zM524 536h1v1h-1zM525 537h1v1h-1zM526 538h1v1h-1zM529 540h1v1h-1zM530 541h1v1h-1zM531 542h1v1h-1zM534 544h1v1h-1zM535 545h1v1h-1zM538 547h1v1h-1zM539 548h1v1h-1zM540 549h1v1h-1zM543 551h1v1h-1zM544 552h1v1h-1zM545 553h1v1h-1zM546 554h1v1h-1zM547 555h1v1h-1zM550 557h1v1h-1zM551 558h1v1h-1zM552 559h1v1h-1zM555 561h1v1h-1zM556 562h1v1h-1zM559 564h1v1h-1zM566 568h1v1h-1zM909 570h1v1h-1zM912 572h1v1h-1zM913 573h1v1h-1zM916 575h1v1h-1zM917 576h1v1h-1zM918 577h1v1h-1zM919 578h1v1h-1zM920 579h1v1h-1zM921 580h1v1h-1zM922 581h1v1h-1zM923 582h1v1h-1zM924 583h1v1h-1zM925 584h1v1h-1zM928 586h1v1h-1zM929 587h1v1h-1zM930 588h1v1h-1zM933 590h1v1h-1zM934 591h1v1h-1zM937 593h1v1h-1zM940 595h1v1h-1zM941 596h1v1h-1zM944 598h1v1h-1zM979 616h1v1h-1zM986 620h1v1h-1zM993 624h1v1h-1z" fill="#e2e21c" shape-rendering="crispEdges"/>
<g shape-rendering="crispEdges">
<rect x="1026.5" y="223.5" width="68" height="17" fill="#000" stroke="#f0a030" stroke-width="1"/>
<rect x="1085" y="214" width="10" height="10" fill="#0a0a0a"/>
</g>
<path d="M1086.5 219.5 L1090 215.5 L1093.5 219.5 Z M1086 223.5 L1090 219.5 L1094 223.5 Z" fill="#f0a030"/>
<rect x="963.5" y="1.5" width="13" height="13" fill="#080808" stroke="#a8a8a8" stroke-width="1" shape-rendering="crispEdges"/>
<rect x="979.5" y="1.5" width="13" height="13" fill="#080808" stroke="#a8a8a8" stroke-width="1" shape-rendering="crispEdges"/>
<rect x="995.5" y="1.5" width="13" height="13" fill="#080808" stroke="#a8a8a8" stroke-width="1" shape-rendering="crispEdges"/>
<rect x="1011.5" y="1.5" width="13" height="13" fill="#080808" stroke="#a8a8a8" stroke-width="1" shape-rendering="crispEdges"/>
<g fill="#a8a8a8" shape-rendering="crispEdges">
<rect x="969" y="3" width="2" height="2"/><rect x="969" y="7" width="2" height="2"/><rect x="969" y="11" width="2" height="2"/>
<rect x="965" y="7" width="3" height="2"/><rect x="972" y="7" width="3" height="2"/>
</g>
<g stroke="#a8a8a8" stroke-width="1" fill="#a8a8a8">
<path d="M982.5 4.5 V10.5 M982 11.5 H990" fill="none"/>
<path d="M981 5.5 L982.5 3 L984 5.5 Z M981 9.5 L982.5 12 L984 9.5 Z" stroke="none"/>
<path d="M988.5 10 L991 11.5 L988.5 13 Z" stroke="none"/>
</g>
<g stroke="#a8a8a8" stroke-width="1" fill="#a8a8a8">
<path d="M998.5 4.5 V10.5 M998 11.5 H1006" fill="none"/>
<path d="M997 5.5 L998.5 3 L1000 5.5 Z M997 9.5 L998.5 12 L1000 9.5 Z" stroke="none"/>
<path d="M1004.5 10 L1007 11.5 L1004.5 13 Z" stroke="none"/>
</g>
<g stroke="#a8a8a8" stroke-width="1" fill="#a8a8a8"><path d="M986.5 4 V10" fill="none"/><path d="M990 4.5 L987 7 L990 9.5 Z" stroke="none"/></g>
<path d="M1001.5 3.5 L1006.5 7 L1001.5 10.5 Z" fill="#a8a8a8"/>
<g stroke="#a8a8a8" stroke-width="1" fill="#a8a8a8">
<rect x="1013.5" y="3.5" width="3" height="9" fill="none"/><path d="M1016 8 H1020" fill="none"/><path d="M1019.5 5 L1023 8 L1019.5 11 Z" stroke="none"/>
</g>
<g stroke="#ff7a00" stroke-width="1" fill="none"><circle cx="220.5" cy="11.5" r="4.2"/><path d="M216.3 11.5 H224.7 M220.5 7.3 V15.7"/></g>
<g shape-rendering="crispEdges"><rect x="233" y="2" width="12" height="13" fill="#8a8a8a"/><rect x="232.5" y="1.5" width="11" height="12" fill="#fff" stroke="#0a0a90" stroke-width="1"/></g>
<polyline points="233.5,9 236.5,5 239,8 241,6 243,6" fill="none" stroke="#ff1010" stroke-width="1.1"/>
<polyline points="233.5,12 236.5,8 239,11 241,9 243,9" fill="none" stroke="#1010ff" stroke-width="1.1"/>
<g fill="#ff0808" shape-rendering="crispEdges">
<rect x="10" y="472" width="2" height="2"/><rect x="10" y="484" width="2" height="2"/><rect x="4" y="478" width="2" height="2"/><rect x="16" y="478" width="2" height="2"/>
<rect x="5" y="473" width="1" height="1"/><rect x="6" y="474" width="1" height="1"/><rect x="16" y="473" width="1" height="1"/><rect x="15" y="474" width="1" height="1"/>
<rect x="5" y="484" width="1" height="1"/><rect x="6" y="483" width="1" height="1"/><rect x="16" y="484" width="1" height="1"/><rect x="15" y="483" width="1" height="1"/>
</g>
<circle cx="11" cy="479" r="4.3" fill="#000"/><circle cx="11" cy="479" r="3.1" fill="#fff"/><circle cx="11" cy="479" r="1.9" fill="#ff0808"/>
<path d="M49.5 670.5 L54 662 L58.5 670.5 Z" fill="#ff7a00"/>
</svg>
<div class="t" style="left:74px;top:2.5px;">布伦特原油连续</div>
<div class="t" style="left:158px;top:2.5px;color:#ff7a00;letter-spacing:0.4px;">【240分】</div>
<div class="t" style="left:248px;top:3px;">BOLL(20,2)</div>
<div class="t" style="left:313px;top:3px;letter-spacing:0.3px;">MID:104.28</div>
<div class="t" style="left:387px;top:3px;color:#c4c422;">UPPER:114.56</div>
<div class="t" style="left:474px;top:3px;color:#d42fd4;">LOWER:94.00</div>
<div class="t" style="left:74px;top:474.5px;letter-spacing:0.2px;">MACD(26,12,9)</div>
<div class="t" style="left:164px;top:474.5px;">DIFF:-1.93</div>
<div class="t" style="left:229px;top:474.5px;color:#c4c422;">DEA:-1.14</div>
<div class="t" style="left:293px;top:474.5px;color:#d42fd4;letter-spacing:0.3px;">MACD:-1.58</div>
<div class="ax axl" style="top:13.5px;">125.48</div>
<div class="ax axr" style="top:13.5px;">125.48</div>
<div class="ax axl" style="top:69.5px;">117.95</div>
<div class="ax axr" style="top:69.5px;">117.95</div>
<div class="ax axl" style="top:125.5px;">110.42</div>
<div class="ax axr" style="top:125.5px;">110.42</div>
<div class="ax axl" style="top:181.5px;">102.89</div>
<div class="ax axr" style="top:181.5px;">102.89</div>
<div class="ax axl" style="top:238.5px;">95.36</div>
<div class="ax axr" style="top:238.5px;">95.36</div>
<div class="ax axl" style="top:294.5px;">87.83</div>
<div class="ax axr" style="top:294.5px;">87.83</div>
<div class="ax axl" style="top:350.5px;">80.30</div>
<div class="ax axr" style="top:350.5px;">80.30</div>
<div class="ax axl" style="top:406.5px;">72.77</div>
<div class="ax axr" style="top:406.5px;">72.77</div>
<div class="ax axl" style="top:485.5px;">6.65</div>
<div class="ax axr" style="top:485.5px;">6.65</div>
<div class="ax axl" style="top:508.5px;">5.26</div>
<div class="ax axr" style="top:508.5px;">5.26</div>
<div class="ax axl" style="top:531.5px;">3.87</div>
<div class="ax axr" style="top:531.5px;">3.87</div>
<div class="ax axl" style="top:554.5px;">2.48</div>
<div class="ax axr" style="top:554.5px;">2.48</div>
<div class="ax axl" style="top:577.5px;">1.09</div>
<div class="ax axr" style="top:577.5px;">1.09</div>
<div class="ax axl" style="top:600.5px;">-0.29</div>
<div class="ax axr" style="top:600.5px;">-0.29</div>
<div class="ax axl" style="top:623.5px;">-1.68</div>
<div class="ax axr" style="top:623.5px;">-1.68</div>
<div class="ax" style="left:1030px;top:224.5px;color:#f0a030;">98.54</div>
<div class="t b" style="left:474px;top:52.5px;color:#ea4f5d;">119.45</div>
<div class="t b" style="left:825px;top:54.5px;color:#ea4f5d;">119.11</div>
<div class="t b" style="left:200.5px;top:442.5px;color:#4fa986;">69.18</div>
<div class="t b" style="left:907.5px;top:239.5px;color:#4fa986;">96.30</div>
<div class="dt" style="left:113px;">02/25</div>
<div class="dt" style="left:281px;">03/03</div>
<div class="dt" style="left:449px;">03/07</div>
<div class="dt" style="left:617px;">03/13</div>
<div class="dt" style="left:785px;">03/19</div>
<div class="dt" style="left:953px;">03/25</div>
<div class="dt" style="left:12px;top:658.5px;color:#ff7a00;">240分</div>
<div class="wm">FX678</div>
</body></html>
